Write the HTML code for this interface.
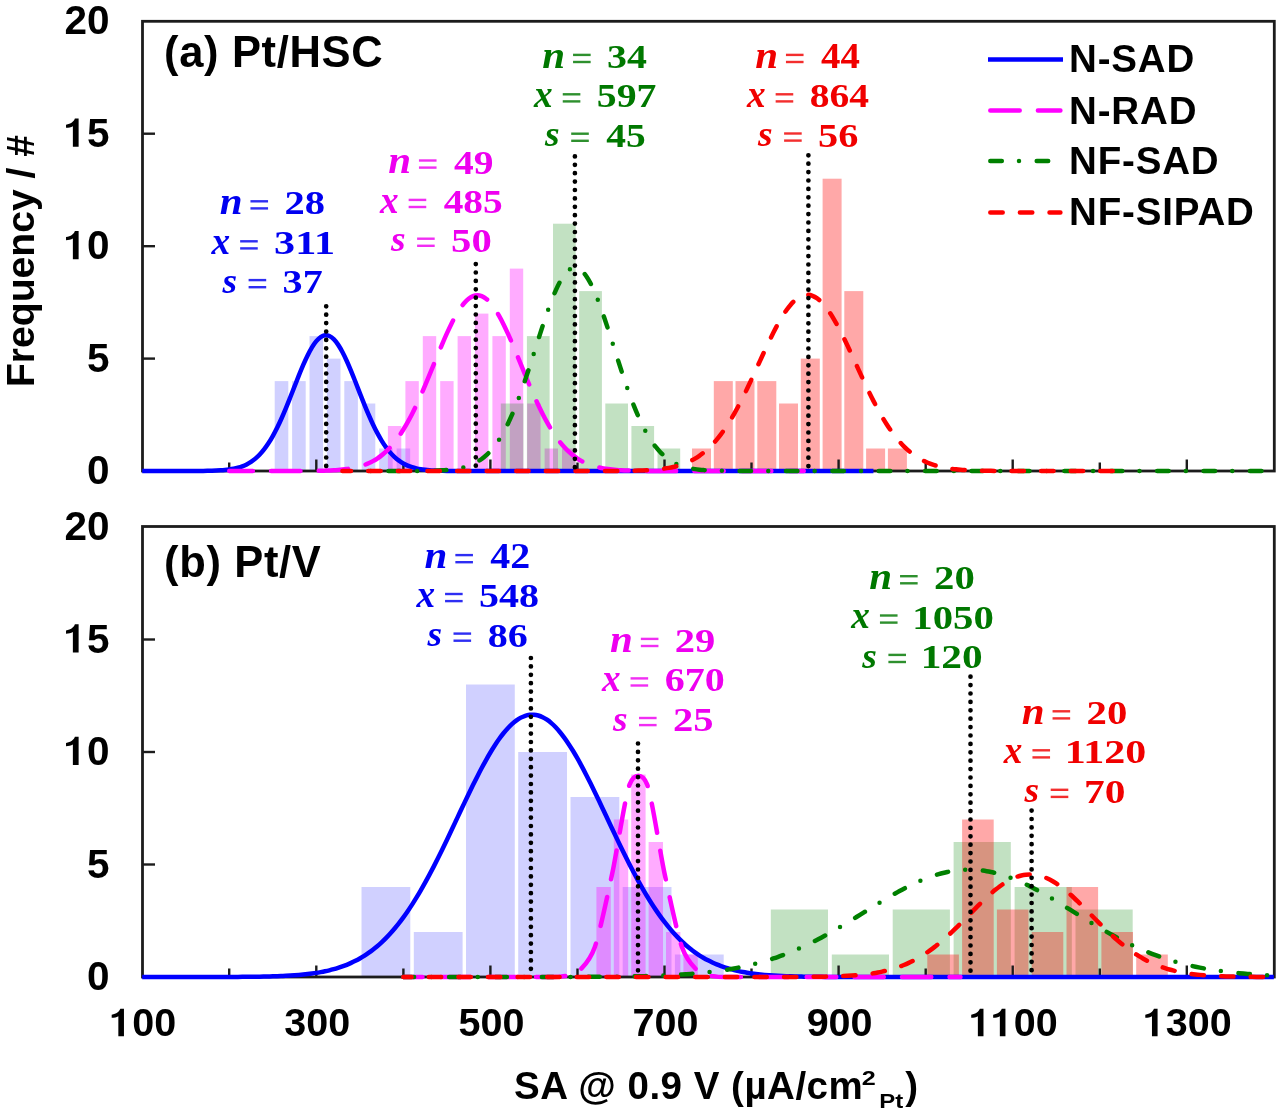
<!DOCTYPE html>
<html><head><meta charset="utf-8"><title>chart</title><style>
*{margin:0;padding:0}
html,body{width:1280px;height:1115px;overflow:hidden;background:#fff}
svg{display:block;filter:blur(0.6px)}
.tk{font-family:"Liberation Sans",sans-serif;font-weight:bold;font-size:39.5px;fill:#000}
.ttl{font-family:"Liberation Sans",sans-serif;font-weight:bold;font-size:43.5px;fill:#000;letter-spacing:0.66px}
.lg{font-family:"Liberation Sans",sans-serif;font-weight:bold;font-size:38.5px;fill:#000;letter-spacing:0.85px}
.ax{font-family:"Liberation Sans",sans-serif;font-weight:bold;font-size:38.5px;fill:#000}
.an{font-family:"Liberation Serif",serif;font-weight:bold;font-size:34px}
.it{font-style:italic}
</style></head><body>
<svg width="1280" height="1115" viewBox="0 0 1280 1115">
<rect width="1280" height="1115" fill="#fff"/>
<rect x="274.7" y="381.1" width="13.6" height="89.9" fill="rgba(0,0,255,0.185)"/>
<rect x="292.1" y="381.1" width="13.6" height="89.9" fill="rgba(0,0,255,0.185)"/>
<rect x="309.5" y="336.1" width="13.6" height="134.9" fill="rgba(0,0,255,0.185)"/>
<rect x="326.9" y="358.6" width="13.6" height="112.4" fill="rgba(0,0,255,0.185)"/>
<rect x="344.3" y="381.1" width="13.6" height="89.9" fill="rgba(0,0,255,0.185)"/>
<rect x="361.7" y="403.5" width="13.6" height="67.5" fill="rgba(0,0,255,0.185)"/>
<rect x="379.1" y="448.5" width="13.6" height="22.5" fill="rgba(0,0,255,0.185)"/>
<rect x="396.6" y="448.5" width="13.6" height="22.5" fill="rgba(0,0,255,0.185)"/>
<rect x="387.9" y="426.0" width="13.4" height="45.0" fill="rgba(255,0,255,0.33)"/>
<rect x="405.4" y="381.1" width="13.4" height="89.9" fill="rgba(255,0,255,0.33)"/>
<rect x="422.8" y="336.1" width="13.4" height="134.9" fill="rgba(255,0,255,0.33)"/>
<rect x="440.2" y="381.1" width="13.4" height="89.9" fill="rgba(255,0,255,0.33)"/>
<rect x="457.6" y="336.1" width="13.4" height="134.9" fill="rgba(255,0,255,0.33)"/>
<rect x="475.0" y="313.6" width="13.4" height="157.4" fill="rgba(255,0,255,0.33)"/>
<rect x="492.4" y="336.1" width="13.4" height="134.9" fill="rgba(255,0,255,0.33)"/>
<rect x="509.8" y="268.6" width="13.4" height="202.4" fill="rgba(255,0,255,0.33)"/>
<rect x="527.2" y="403.5" width="13.4" height="67.5" fill="rgba(255,0,255,0.33)"/>
<rect x="544.6" y="448.5" width="13.4" height="22.5" fill="rgba(255,0,255,0.33)"/>
<rect x="562.0" y="448.5" width="13.4" height="22.5" fill="rgba(255,0,255,0.33)"/>
<rect x="500.8" y="403.5" width="22.7" height="67.5" fill="rgba(0,128,0,0.24)"/>
<rect x="526.9" y="336.1" width="22.7" height="134.9" fill="rgba(0,128,0,0.24)"/>
<rect x="553.0" y="223.7" width="22.7" height="247.3" fill="rgba(0,128,0,0.24)"/>
<rect x="579.2" y="291.1" width="22.7" height="179.9" fill="rgba(0,128,0,0.24)"/>
<rect x="605.3" y="403.5" width="22.7" height="67.5" fill="rgba(0,128,0,0.24)"/>
<rect x="631.4" y="426.0" width="22.7" height="45.0" fill="rgba(0,128,0,0.24)"/>
<rect x="657.5" y="448.5" width="22.7" height="22.5" fill="rgba(0,128,0,0.24)"/>
<rect x="692.0" y="448.5" width="19.0" height="22.5" fill="rgba(255,0,0,0.34)"/>
<rect x="713.8" y="381.1" width="19.0" height="89.9" fill="rgba(255,0,0,0.34)"/>
<rect x="735.5" y="381.1" width="19.0" height="89.9" fill="rgba(255,0,0,0.34)"/>
<rect x="757.3" y="381.1" width="19.0" height="89.9" fill="rgba(255,0,0,0.34)"/>
<rect x="779.0" y="403.5" width="19.0" height="67.5" fill="rgba(255,0,0,0.34)"/>
<rect x="800.8" y="358.6" width="19.0" height="112.4" fill="rgba(255,0,0,0.34)"/>
<rect x="822.6" y="178.7" width="19.0" height="292.3" fill="rgba(255,0,0,0.34)"/>
<rect x="844.3" y="291.1" width="19.0" height="179.9" fill="rgba(255,0,0,0.34)"/>
<rect x="866.1" y="448.5" width="19.0" height="22.5" fill="rgba(255,0,0,0.34)"/>
<rect x="887.9" y="448.5" width="19.0" height="22.5" fill="rgba(255,0,0,0.34)"/>
<rect x="361.5" y="887.0" width="48.8" height="90.0" fill="rgba(0,0,255,0.185)"/>
<rect x="413.8" y="932.0" width="48.8" height="45.0" fill="rgba(0,0,255,0.185)"/>
<rect x="466.0" y="684.5" width="48.8" height="292.5" fill="rgba(0,0,255,0.185)"/>
<rect x="518.2" y="752.0" width="48.8" height="225.0" fill="rgba(0,0,255,0.185)"/>
<rect x="570.5" y="797.0" width="48.8" height="180.0" fill="rgba(0,0,255,0.185)"/>
<rect x="622.7" y="887.0" width="48.8" height="90.0" fill="rgba(0,0,255,0.185)"/>
<rect x="674.9" y="954.5" width="48.8" height="22.5" fill="rgba(0,0,255,0.185)"/>
<rect x="596.4" y="887.0" width="14.4" height="90.0" fill="rgba(255,0,255,0.33)"/>
<rect x="613.8" y="819.5" width="14.4" height="157.5" fill="rgba(255,0,255,0.33)"/>
<rect x="631.2" y="774.5" width="14.4" height="202.5" fill="rgba(255,0,255,0.33)"/>
<rect x="648.6" y="842.0" width="14.4" height="135.0" fill="rgba(255,0,255,0.33)"/>
<rect x="666.0" y="932.0" width="14.4" height="45.0" fill="rgba(255,0,255,0.33)"/>
<rect x="683.4" y="954.5" width="14.4" height="22.5" fill="rgba(255,0,255,0.33)"/>
<rect x="770.8" y="909.5" width="57.2" height="67.5" fill="rgba(0,128,0,0.24)"/>
<rect x="831.8" y="954.5" width="57.2" height="22.5" fill="rgba(0,128,0,0.24)"/>
<rect x="892.7" y="909.5" width="57.2" height="67.5" fill="rgba(0,128,0,0.24)"/>
<rect x="953.6" y="842.0" width="57.2" height="135.0" fill="rgba(0,128,0,0.24)"/>
<rect x="1014.6" y="887.0" width="57.2" height="90.0" fill="rgba(0,128,0,0.24)"/>
<rect x="1075.5" y="909.5" width="57.2" height="67.5" fill="rgba(0,128,0,0.24)"/>
<rect x="927.3" y="954.5" width="31.6" height="22.5" fill="rgba(255,0,0,0.34)"/>
<rect x="962.1" y="819.5" width="31.6" height="157.5" fill="rgba(255,0,0,0.34)"/>
<rect x="996.9" y="909.5" width="31.6" height="67.5" fill="rgba(255,0,0,0.34)"/>
<rect x="1031.7" y="932.0" width="31.6" height="45.0" fill="rgba(255,0,0,0.34)"/>
<rect x="1066.5" y="887.0" width="31.6" height="90.0" fill="rgba(255,0,0,0.34)"/>
<rect x="1101.4" y="932.0" width="31.6" height="45.0" fill="rgba(255,0,0,0.34)"/>
<rect x="1136.2" y="954.5" width="31.6" height="22.5" fill="rgba(255,0,0,0.34)"/>
<rect x="142.5" y="21.3" width="1131.8" height="449.7" fill="none" stroke="#1c1c1c" stroke-width="2.8"/>
<line x1="142.5" y1="358.6" x2="155.0" y2="358.6" stroke="#1c1c1c" stroke-width="2.4"/>
<line x1="142.5" y1="246.2" x2="155.0" y2="246.2" stroke="#1c1c1c" stroke-width="2.4"/>
<line x1="142.5" y1="133.7" x2="155.0" y2="133.7" stroke="#1c1c1c" stroke-width="2.4"/>
<line x1="229.2" y1="471.0" x2="229.2" y2="462.5" stroke="#1c1c1c" stroke-width="2.4"/>
<line x1="316.3" y1="471.0" x2="316.3" y2="459.5" stroke="#1c1c1c" stroke-width="2.4"/>
<line x1="403.4" y1="471.0" x2="403.4" y2="462.5" stroke="#1c1c1c" stroke-width="2.4"/>
<line x1="490.4" y1="471.0" x2="490.4" y2="459.5" stroke="#1c1c1c" stroke-width="2.4"/>
<line x1="577.5" y1="471.0" x2="577.5" y2="462.5" stroke="#1c1c1c" stroke-width="2.4"/>
<line x1="664.5" y1="471.0" x2="664.5" y2="459.5" stroke="#1c1c1c" stroke-width="2.4"/>
<line x1="751.5" y1="471.0" x2="751.5" y2="462.5" stroke="#1c1c1c" stroke-width="2.4"/>
<line x1="838.6" y1="471.0" x2="838.6" y2="459.5" stroke="#1c1c1c" stroke-width="2.4"/>
<line x1="925.7" y1="471.0" x2="925.7" y2="462.5" stroke="#1c1c1c" stroke-width="2.4"/>
<line x1="1012.7" y1="471.0" x2="1012.7" y2="459.5" stroke="#1c1c1c" stroke-width="2.4"/>
<line x1="1099.8" y1="471.0" x2="1099.8" y2="462.5" stroke="#1c1c1c" stroke-width="2.4"/>
<line x1="1186.8" y1="471.0" x2="1186.8" y2="459.5" stroke="#1c1c1c" stroke-width="2.4"/>
<rect x="142.5" y="526.5" width="1131.8" height="450.5" fill="none" stroke="#1c1c1c" stroke-width="2.8"/>
<line x1="142.5" y1="864.5" x2="155.0" y2="864.5" stroke="#1c1c1c" stroke-width="2.4"/>
<line x1="142.5" y1="752.0" x2="155.0" y2="752.0" stroke="#1c1c1c" stroke-width="2.4"/>
<line x1="142.5" y1="639.5" x2="155.0" y2="639.5" stroke="#1c1c1c" stroke-width="2.4"/>
<line x1="229.2" y1="977.0" x2="229.2" y2="968.5" stroke="#1c1c1c" stroke-width="2.4"/>
<line x1="316.3" y1="977.0" x2="316.3" y2="965.5" stroke="#1c1c1c" stroke-width="2.4"/>
<line x1="403.4" y1="977.0" x2="403.4" y2="968.5" stroke="#1c1c1c" stroke-width="2.4"/>
<line x1="490.4" y1="977.0" x2="490.4" y2="965.5" stroke="#1c1c1c" stroke-width="2.4"/>
<line x1="577.5" y1="977.0" x2="577.5" y2="968.5" stroke="#1c1c1c" stroke-width="2.4"/>
<line x1="664.5" y1="977.0" x2="664.5" y2="965.5" stroke="#1c1c1c" stroke-width="2.4"/>
<line x1="751.5" y1="977.0" x2="751.5" y2="968.5" stroke="#1c1c1c" stroke-width="2.4"/>
<line x1="838.6" y1="977.0" x2="838.6" y2="965.5" stroke="#1c1c1c" stroke-width="2.4"/>
<line x1="925.7" y1="977.0" x2="925.7" y2="968.5" stroke="#1c1c1c" stroke-width="2.4"/>
<line x1="1012.7" y1="977.0" x2="1012.7" y2="965.5" stroke="#1c1c1c" stroke-width="2.4"/>
<line x1="1099.8" y1="977.0" x2="1099.8" y2="968.5" stroke="#1c1c1c" stroke-width="2.4"/>
<line x1="1186.8" y1="977.0" x2="1186.8" y2="965.5" stroke="#1c1c1c" stroke-width="2.4"/>
<path d="M142.20,471.00 C142.93,471.00 145.10,471.00 146.55,471.00 C148.00,471.00 149.45,471.00 150.91,471.00 C152.36,471.00 153.81,471.00 155.26,471.00 C156.71,471.00 158.16,471.00 159.61,471.00 C161.06,471.00 162.51,471.00 163.96,471.00 C165.41,471.00 166.86,471.00 168.31,471.00 C169.77,471.00 171.22,471.00 172.67,471.00 C174.12,471.00 175.57,471.00 177.02,471.00 C178.47,471.00 179.92,471.00 181.37,470.99 C182.82,470.99 184.27,470.99 185.72,470.99 C187.18,470.99 188.63,470.98 190.08,470.98 C191.53,470.98 192.98,470.97 194.43,470.97 C195.88,470.96 197.33,470.95 198.78,470.94 C200.23,470.93 201.68,470.92 203.13,470.90 C204.59,470.89 206.04,470.87 207.49,470.84 C208.94,470.81 210.39,470.78 211.84,470.74 C213.29,470.70 214.74,470.65 216.19,470.59 C217.64,470.52 219.09,470.45 220.54,470.35 C222.00,470.26 223.45,470.15 224.90,470.00 C226.35,469.86 227.80,469.70 229.25,469.49 C230.70,469.28 232.15,469.05 233.60,468.76 C235.05,468.46 236.50,468.14 237.95,467.73 C239.41,467.32 240.86,466.87 242.31,466.31 C243.76,465.76 245.21,465.14 246.66,464.40 C248.11,463.67 249.56,462.85 251.01,461.89 C252.46,460.93 253.91,459.86 255.37,458.64 C256.82,457.41 258.27,456.06 259.72,454.53 C261.17,453.00 262.62,451.33 264.07,449.46 C265.52,447.60 266.97,445.56 268.42,443.34 C269.87,441.12 271.32,438.71 272.77,436.12 C274.23,433.53 275.68,430.75 277.13,427.81 C278.58,424.87 280.03,421.74 281.48,418.49 C282.93,415.24 284.38,411.81 285.83,408.32 C287.28,404.82 288.73,401.17 290.19,397.52 C291.64,393.88 293.09,390.11 294.54,386.43 C295.99,382.75 297.44,379.00 298.89,375.42 C300.34,371.84 301.79,368.27 303.24,364.94 C304.69,361.61 306.14,358.36 307.60,355.43 C309.05,352.50 310.50,349.74 311.95,347.35 C313.40,344.97 314.85,342.83 316.30,341.10 C317.75,339.38 319.20,337.98 320.65,337.01 C322.10,336.04 323.55,335.45 325.00,335.29 C326.46,335.12 327.91,335.38 329.36,336.03 C330.81,336.68 332.26,337.76 333.71,339.19 C335.16,340.62 336.61,342.48 338.06,344.61 C339.51,346.75 340.96,349.28 342.41,352.01 C343.87,354.74 345.32,357.80 346.77,360.99 C348.22,364.18 349.67,367.64 351.12,371.14 C352.57,374.64 354.02,378.33 355.47,381.99 C356.92,385.65 358.37,389.42 359.82,393.10 C361.28,396.78 362.73,400.49 364.18,404.06 C365.63,407.63 367.08,411.16 368.53,414.51 C369.98,417.87 371.43,421.13 372.88,424.20 C374.33,427.27 375.78,430.19 377.24,432.93 C378.69,435.66 380.14,438.22 381.59,440.58 C383.04,442.95 384.49,445.14 385.94,447.14 C387.39,449.15 388.84,450.97 390.29,452.63 C391.74,454.29 393.19,455.76 394.64,457.11 C396.10,458.45 397.55,459.62 399.00,460.68 C400.45,461.74 401.90,462.66 403.35,463.48 C404.80,464.30 406.25,464.99 407.70,465.61 C409.15,466.24 410.60,466.75 412.06,467.21 C413.51,467.68 414.96,468.05 416.41,468.39 C417.86,468.72 419.31,468.99 420.76,469.23 C422.21,469.47 423.66,469.65 425.11,469.82 C426.56,469.99 428.01,470.12 429.47,470.23 C430.92,470.34 432.37,470.43 433.82,470.51 C435.27,470.58 436.72,470.64 438.17,470.69 C439.62,470.74 441.07,470.78 442.52,470.81 C443.97,470.84 445.42,470.86 446.88,470.88 C448.33,470.90 449.78,470.92 451.23,470.93 C452.68,470.94 454.13,470.95 455.58,470.96 C457.03,470.97 458.48,470.97 459.93,470.98 C461.38,470.98 462.83,470.98 464.29,470.99 C465.74,470.99 467.19,470.99 468.64,470.99 C470.09,470.99 471.54,471.00 472.99,471.00 C474.44,471.00 475.89,471.00 477.34,471.00 C478.79,471.00 480.24,471.00 481.69,471.00 C483.15,471.00 484.60,471.00 486.05,471.00 C487.50,471.00 488.95,471.00 490.40,471.00 C491.85,471.00 493.30,471.00 494.75,471.00 C496.20,471.00 497.65,471.00 499.11,471.00 C500.56,471.00 502.01,471.00 503.46,471.00 C504.91,471.00 506.36,471.00 507.81,471.00 C509.26,471.00 510.71,471.00 512.16,471.00 C513.61,471.00 515.06,471.00 516.51,471.00 C517.97,471.00 519.42,471.00 520.87,471.00 C522.32,471.00 523.77,471.00 525.22,471.00 C526.67,471.00 528.12,471.00 529.57,471.00 C531.02,471.00 532.47,471.00 533.92,471.00 C535.38,471.00 536.83,471.00 538.28,471.00 C539.73,471.00 541.18,471.00 542.63,471.00 C544.08,471.00 545.53,471.00 546.98,471.00 C548.43,471.00 549.88,471.00 551.34,471.00 C552.79,471.00 554.24,471.00 555.69,471.00 C557.14,471.00 558.59,471.00 560.04,471.00 C561.49,471.00 562.94,471.00 564.39,471.00 C565.84,471.00 567.29,471.00 568.75,471.00 C570.20,471.00 571.65,471.00 573.10,471.00 C574.55,471.00 576.00,471.00 577.45,471.00 C578.90,471.00 580.35,471.00 581.80,471.00 C583.25,471.00 584.70,471.00 586.15,471.00 C587.61,471.00 589.06,471.00 590.51,471.00 C591.96,471.00 593.41,471.00 594.86,471.00 C596.31,471.00 597.76,471.00 599.21,471.00 C600.66,471.00 602.11,471.00 603.57,471.00 C605.02,471.00 606.47,471.00 607.92,471.00 C609.37,471.00 610.82,471.00 612.27,471.00 C613.72,471.00 615.17,471.00 616.62,471.00 C618.07,471.00 619.52,471.00 620.98,471.00 C622.43,471.00 623.88,471.00 625.33,471.00 C626.78,471.00 628.23,471.00 629.68,471.00 C631.13,471.00 632.58,471.00 634.03,471.00 C635.48,471.00 636.93,471.00 638.38,471.00 C639.84,471.00 641.29,471.00 642.74,471.00 C644.19,471.00 645.64,471.00 647.09,471.00 C648.54,471.00 649.99,471.00 651.44,471.00 C652.89,471.00 654.34,471.00 655.80,471.00 C657.25,471.00 658.70,471.00 660.15,471.00 C661.60,471.00 663.05,471.00 664.50,471.00 C665.95,471.00 667.40,471.00 668.85,471.00 C670.30,471.00 671.75,471.00 673.20,471.00 C674.66,471.00 676.11,471.00 677.56,471.00 C679.01,471.00 680.46,471.00 681.91,471.00 C683.36,471.00 684.81,471.00 686.26,471.00 C687.71,471.00 689.16,471.00 690.62,471.00 C692.07,471.00 693.52,471.00 694.97,471.00 C696.42,471.00 697.87,471.00 699.32,471.00 C700.77,471.00 702.22,471.00 703.67,471.00 C705.12,471.00 706.57,471.00 708.03,471.00 C709.48,471.00 710.93,471.00 712.38,471.00 C713.83,471.00 715.28,471.00 716.73,471.00 C718.18,471.00 719.63,471.00 721.08,471.00 C722.53,471.00 723.98,471.00 725.43,471.00 C726.89,471.00 728.34,471.00 729.79,471.00 C731.24,471.00 732.69,471.00 734.14,471.00 C735.59,471.00 737.04,471.00 738.49,471.00 C739.94,471.00 741.39,471.00 742.85,471.00 C744.30,471.00 745.75,471.00 747.20,471.00 C748.65,471.00 750.10,471.00 751.55,471.00 C753.00,471.00 754.45,471.00 755.90,471.00 C757.35,471.00 758.80,471.00 760.26,471.00 C761.71,471.00 763.16,471.00 764.61,471.00 C766.06,471.00 767.51,471.00 768.96,471.00 C770.41,471.00 771.86,471.00 773.31,471.00 C774.76,471.00 776.21,471.00 777.66,471.00 C779.12,471.00 780.57,471.00 782.02,471.00 C783.47,471.00 784.92,471.00 786.37,471.00 C787.82,471.00 789.27,471.00 790.72,471.00 C792.17,471.00 793.62,471.00 795.08,471.00 C796.53,471.00 797.98,471.00 799.43,471.00 C800.88,471.00 802.33,471.00 803.78,471.00 C805.23,471.00 806.68,471.00 808.13,471.00 C809.58,471.00 811.03,471.00 812.49,471.00 C813.94,471.00 815.39,471.00 816.84,471.00 C818.29,471.00 819.74,471.00 821.19,471.00 C822.64,471.00 824.09,471.00 825.54,471.00 C826.99,471.00 828.44,471.00 829.89,471.00 C831.35,471.00 832.80,471.00 834.25,471.00 C835.70,471.00 837.15,471.00 838.60,471.00 C840.05,471.00 841.50,471.00 842.95,471.00 C844.40,471.00 845.85,471.00 847.31,471.00 C848.76,471.00 850.21,471.00 851.66,471.00 C853.11,471.00 854.56,471.00 856.01,471.00 C857.46,471.00 858.91,471.00 860.36,471.00 C861.81,471.00 863.26,471.00 864.71,471.00 C866.17,471.00 867.62,471.00 869.07,471.00 C870.52,471.00 872.69,471.00 873.42,471.00" fill="none" stroke="#0000ff" stroke-width="4.5" stroke-linejoin="round"/>
<path d="M229.25,471.00 C229.98,471.00 232.15,471.00 233.60,471.00 C235.05,471.00 236.50,471.00 237.95,471.00 C239.41,471.00 240.86,471.00 242.31,471.00 C243.76,471.00 245.21,471.00 246.66,471.00 C248.11,471.00 249.56,471.00 251.01,471.00 C252.46,471.00 253.91,471.00 255.37,471.00 C256.82,471.00 258.27,471.00 259.72,471.00 C261.17,471.00 262.62,471.00 264.07,471.00 C265.52,471.00 266.97,471.00 268.42,471.00 C269.87,471.00 271.32,471.00 272.77,471.00 C274.23,471.00 275.68,471.00 277.13,471.00 C278.58,470.99 280.03,470.99 281.48,470.99 C282.93,470.99 284.38,470.99 285.83,470.99 C287.28,470.99 288.73,470.99 290.19,470.98 C291.64,470.98 293.09,470.98 294.54,470.97 C295.99,470.97 297.44,470.97 298.89,470.96 C300.34,470.96 301.79,470.95 303.24,470.94 C304.69,470.93 306.14,470.92 307.60,470.91 C309.05,470.90 310.50,470.89 311.95,470.87 C313.40,470.85 314.85,470.84 316.30,470.81 C317.75,470.79 319.20,470.76 320.65,470.73 C322.10,470.70 323.55,470.66 325.00,470.62 C326.46,470.57 327.91,470.52 329.36,470.46 C330.81,470.39 332.26,470.33 333.71,470.24 C335.16,470.16 336.61,470.06 338.06,469.95 C339.51,469.84 340.96,469.71 342.41,469.56 C343.87,469.41 345.32,469.24 346.77,469.05 C348.22,468.85 349.67,468.63 351.12,468.38 C352.57,468.12 354.02,467.84 355.47,467.51 C356.92,467.18 358.37,466.82 359.82,466.41 C361.28,465.99 362.73,465.54 364.18,465.01 C365.63,464.49 367.08,463.92 368.53,463.28 C369.98,462.63 371.43,461.92 372.88,461.13 C374.33,460.34 375.78,459.48 377.24,458.52 C378.69,457.56 380.14,456.52 381.59,455.37 C383.04,454.22 384.49,452.98 385.94,451.62 C387.39,450.26 388.84,448.80 390.29,447.21 C391.74,445.62 393.19,443.92 394.64,442.08 C396.10,440.25 397.55,438.30 399.00,436.21 C400.45,434.12 401.90,431.90 403.35,429.55 C404.80,427.21 406.25,424.72 407.70,422.12 C409.15,419.51 410.60,416.77 412.06,413.92 C413.51,411.07 414.96,408.09 416.41,405.02 C417.86,401.94 419.31,398.74 420.76,395.48 C422.21,392.21 423.66,388.84 425.11,385.42 C426.56,382.01 428.01,378.50 429.47,374.99 C430.92,371.48 432.37,367.91 433.82,364.37 C435.27,360.82 436.72,357.24 438.17,353.74 C439.62,350.23 441.07,346.73 442.52,343.34 C443.97,339.94 445.42,336.59 446.88,333.39 C448.33,330.20 449.78,327.08 451.23,324.15 C452.68,321.23 454.13,318.42 455.58,315.85 C457.03,313.27 458.48,310.86 459.93,308.71 C461.38,306.55 462.83,304.60 464.29,302.93 C465.74,301.25 467.19,299.81 468.64,298.67 C470.09,297.53 471.54,296.65 472.99,296.07 C474.44,295.49 475.89,295.19 477.34,295.19 C478.79,295.19 480.24,295.49 481.69,296.07 C483.15,296.65 484.60,297.53 486.05,298.67 C487.50,299.81 488.95,301.25 490.40,302.93 C491.85,304.60 493.30,306.55 494.75,308.71 C496.20,310.86 497.65,313.27 499.11,315.85 C500.56,318.42 502.01,321.23 503.46,324.15 C504.91,327.08 506.36,330.20 507.81,333.39 C509.26,336.59 510.71,339.94 512.16,343.34 C513.61,346.73 515.06,350.23 516.51,353.74 C517.97,357.24 519.42,360.82 520.87,364.37 C522.32,367.91 523.77,371.48 525.22,374.99 C526.67,378.50 528.12,382.01 529.57,385.42 C531.02,388.84 532.47,392.21 533.92,395.48 C535.38,398.74 536.83,401.94 538.28,405.02 C539.73,408.09 541.18,411.07 542.63,413.92 C544.08,416.77 545.53,419.51 546.98,422.12 C548.43,424.72 549.88,427.21 551.34,429.55 C552.79,431.90 554.24,434.12 555.69,436.21 C557.14,438.30 558.59,440.25 560.04,442.08 C561.49,443.92 562.94,445.62 564.39,447.21 C565.84,448.80 567.29,450.26 568.75,451.62 C570.20,452.98 571.65,454.22 573.10,455.37 C574.55,456.52 576.00,457.56 577.45,458.52 C578.90,459.48 580.35,460.34 581.80,461.13 C583.25,461.92 584.70,462.63 586.15,463.28 C587.61,463.92 589.06,464.49 590.51,465.01 C591.96,465.54 593.41,465.99 594.86,466.41 C596.31,466.82 597.76,467.18 599.21,467.51 C600.66,467.84 602.11,468.12 603.57,468.38 C605.02,468.63 606.47,468.85 607.92,469.05 C609.37,469.24 610.82,469.41 612.27,469.56 C613.72,469.71 615.17,469.84 616.62,469.95 C618.07,470.06 619.52,470.16 620.98,470.24 C622.43,470.33 623.88,470.39 625.33,470.46 C626.78,470.52 628.23,470.57 629.68,470.62 C631.13,470.66 632.58,470.70 634.03,470.73 C635.48,470.76 636.93,470.79 638.38,470.81 C639.84,470.84 641.29,470.85 642.74,470.87 C644.19,470.89 645.64,470.90 647.09,470.91 C648.54,470.92 649.99,470.93 651.44,470.94 C652.89,470.95 654.34,470.96 655.80,470.96 C657.25,470.97 658.70,470.97 660.15,470.97 C661.60,470.98 663.05,470.98 664.50,470.98 C665.95,470.99 667.40,470.99 668.85,470.99 C670.30,470.99 671.75,470.99 673.20,470.99 C674.66,470.99 676.11,470.99 677.56,471.00 C679.01,471.00 680.46,471.00 681.91,471.00 C683.36,471.00 684.81,471.00 686.26,471.00 C687.71,471.00 689.16,471.00 690.62,471.00 C692.07,471.00 693.52,471.00 694.97,471.00 C696.42,471.00 697.87,471.00 699.32,471.00 C700.77,471.00 702.22,471.00 703.67,471.00 C705.12,471.00 706.57,471.00 708.03,471.00 C709.48,471.00 710.93,471.00 712.38,471.00 C713.83,471.00 715.28,471.00 716.73,471.00 C718.18,471.00 719.63,471.00 721.08,471.00 C722.53,471.00 723.98,471.00 725.43,471.00 C726.89,471.00 728.34,471.00 729.79,471.00 C731.24,471.00 732.69,471.00 734.14,471.00 C735.59,471.00 737.04,471.00 738.49,471.00 C739.94,471.00 741.39,471.00 742.85,471.00 C744.30,471.00 745.75,471.00 747.20,471.00 C748.65,471.00 750.10,471.00 751.55,471.00 C753.00,471.00 754.45,471.00 755.90,471.00 C757.35,471.00 758.80,471.00 760.26,471.00 C761.71,471.00 763.16,471.00 764.61,471.00 C766.06,471.00 767.51,471.00 768.96,471.00 C770.41,471.00 771.86,471.00 773.31,471.00 C774.76,471.00 776.21,471.00 777.66,471.00 C779.12,471.00 780.57,471.00 782.02,471.00 C783.47,471.00 784.92,471.00 786.37,471.00 C787.82,471.00 789.27,471.00 790.72,471.00 C792.17,471.00 793.62,471.00 795.08,471.00 C796.53,471.00 797.98,471.00 799.43,471.00 C800.88,471.00 803.05,471.00 803.78,471.00" fill="none" stroke="#ff00ff" stroke-width="4.5" stroke-linejoin="round" stroke-dasharray="29.4 18.2" stroke-dashoffset="5.78" stroke-linecap="round"/>
<path d="M368.53,471.00 C369.26,471.00 371.43,471.00 372.88,471.00 C374.33,471.00 375.78,471.00 377.24,471.00 C378.69,471.00 380.14,471.00 381.59,471.00 C383.04,471.00 384.49,471.00 385.94,471.00 C387.39,471.00 388.84,471.00 390.29,471.00 C391.74,471.00 393.19,471.00 394.64,470.99 C396.10,470.99 397.55,470.99 399.00,470.99 C400.45,470.99 401.90,470.99 403.35,470.99 C404.80,470.98 406.25,470.98 407.70,470.98 C409.15,470.97 410.60,470.97 412.06,470.96 C413.51,470.96 414.96,470.95 416.41,470.94 C417.86,470.93 419.31,470.92 420.76,470.91 C422.21,470.90 423.66,470.88 425.11,470.86 C426.56,470.84 428.01,470.82 429.47,470.79 C430.92,470.76 432.37,470.73 433.82,470.69 C435.27,470.65 436.72,470.60 438.17,470.54 C439.62,470.48 441.07,470.41 442.52,470.32 C443.97,470.24 445.42,470.14 446.88,470.02 C448.33,469.90 449.78,469.77 451.23,469.60 C452.68,469.43 454.13,469.25 455.58,469.03 C457.03,468.80 458.48,468.55 459.93,468.25 C461.38,467.94 462.83,467.61 464.29,467.21 C465.74,466.81 467.19,466.37 468.64,465.85 C470.09,465.32 471.54,464.75 472.99,464.08 C474.44,463.41 475.89,462.67 477.34,461.82 C478.79,460.96 480.24,460.03 481.69,458.96 C483.15,457.90 484.60,456.73 486.05,455.42 C487.50,454.11 488.95,452.68 490.40,451.08 C491.85,449.49 493.30,447.76 494.75,445.85 C496.20,443.94 497.65,441.88 499.11,439.63 C500.56,437.38 502.01,434.96 503.46,432.35 C504.91,429.74 506.36,426.95 507.81,423.97 C509.26,420.98 510.71,417.81 512.16,414.47 C513.61,411.12 515.06,407.58 516.51,403.88 C517.97,400.19 519.42,396.30 520.87,392.30 C522.32,388.29 523.77,384.10 525.22,379.84 C526.67,375.58 528.12,371.16 529.57,366.71 C531.02,362.26 532.47,357.69 533.92,353.15 C535.38,348.61 536.83,343.99 538.28,339.46 C539.73,334.94 541.18,330.38 542.63,325.99 C544.08,321.59 545.53,317.23 546.98,313.09 C548.43,308.96 549.88,304.92 551.34,301.16 C552.79,297.41 554.24,293.82 555.69,290.57 C557.14,287.32 558.59,284.31 560.04,281.67 C561.49,279.04 562.94,276.70 564.39,274.77 C565.84,272.84 567.29,271.26 568.75,270.11 C570.20,268.96 571.65,268.20 573.10,267.87 C574.55,267.54 576.00,267.62 577.45,268.12 C578.90,268.62 580.35,269.55 581.80,270.86 C583.25,272.17 584.70,273.90 586.15,275.98 C587.61,278.05 589.06,280.54 590.51,283.30 C591.96,286.07 593.41,289.21 594.86,292.57 C596.31,295.92 597.76,299.61 599.21,303.45 C600.66,307.29 602.11,311.41 603.57,315.61 C605.02,319.81 606.47,324.22 607.92,328.65 C609.37,333.08 610.82,337.66 612.27,342.20 C613.72,346.73 615.17,351.35 616.62,355.88 C618.07,360.41 619.52,364.96 620.98,369.38 C622.43,373.80 623.88,378.17 625.33,382.39 C626.78,386.61 628.23,390.74 629.68,394.69 C631.13,398.64 632.58,402.46 634.03,406.08 C635.48,409.71 636.93,413.18 638.38,416.45 C639.84,419.73 641.29,422.83 642.74,425.73 C644.19,428.64 645.64,431.35 647.09,433.89 C648.54,436.43 649.99,438.77 651.44,440.95 C652.89,443.13 654.34,445.13 655.80,446.97 C657.25,448.81 658.70,450.48 660.15,452.02 C661.60,453.55 663.05,454.93 664.50,456.19 C665.95,457.45 667.40,458.57 668.85,459.59 C670.30,460.61 671.75,461.50 673.20,462.31 C674.66,463.13 676.11,463.83 677.56,464.47 C679.01,465.11 680.46,465.65 681.91,466.15 C683.36,466.64 684.81,467.06 686.26,467.44 C687.71,467.82 689.16,468.14 690.62,468.42 C692.07,468.71 693.52,468.94 694.97,469.15 C696.42,469.37 697.87,469.54 699.32,469.70 C700.77,469.85 702.22,469.98 703.67,470.09 C705.12,470.20 706.57,470.29 708.03,470.37 C709.48,470.45 710.93,470.52 712.38,470.57 C713.83,470.63 715.28,470.67 716.73,470.71 C718.18,470.75 719.63,470.78 721.08,470.81 C722.53,470.84 723.98,470.86 725.43,470.87 C726.89,470.89 728.34,470.91 729.79,470.92 C731.24,470.93 732.69,470.94 734.14,470.95 C735.59,470.96 737.04,470.96 738.49,470.97 C739.94,470.97 741.39,470.98 742.85,470.98 C744.30,470.98 745.75,470.99 747.20,470.99 C748.65,470.99 750.10,470.99 751.55,470.99 C753.00,470.99 754.45,470.99 755.90,471.00 C757.35,471.00 758.80,471.00 760.26,471.00 C761.71,471.00 763.16,471.00 764.61,471.00 C766.06,471.00 767.51,471.00 768.96,471.00 C770.41,471.00 771.86,471.00 773.31,471.00 C774.76,471.00 776.21,471.00 777.66,471.00 C779.12,471.00 780.57,471.00 782.02,471.00 C783.47,471.00 784.92,471.00 786.37,471.00 C787.82,471.00 789.27,471.00 790.72,471.00 C792.17,471.00 793.62,471.00 795.08,471.00 C796.53,471.00 797.98,471.00 799.43,471.00 C800.88,471.00 802.33,471.00 803.78,471.00 C805.23,471.00 806.68,471.00 808.13,471.00 C809.58,471.00 811.03,471.00 812.49,471.00 C813.94,471.00 815.39,471.00 816.84,471.00 C818.29,471.00 819.74,471.00 821.19,471.00 C822.64,471.00 824.09,471.00 825.54,471.00 C826.99,471.00 828.44,471.00 829.89,471.00 C831.35,471.00 832.80,471.00 834.25,471.00 C835.70,471.00 837.15,471.00 838.60,471.00 C840.05,471.00 841.50,471.00 842.95,471.00 C844.40,471.00 845.85,471.00 847.31,471.00 C848.76,471.00 850.21,471.00 851.66,471.00 C853.11,471.00 854.56,471.00 856.01,471.00 C857.46,471.00 858.91,471.00 860.36,471.00 C861.81,471.00 863.26,471.00 864.71,471.00 C866.17,471.00 867.62,471.00 869.07,471.00 C870.52,471.00 871.97,471.00 873.42,471.00 C874.87,471.00 876.32,471.00 877.77,471.00 C879.22,471.00 880.67,471.00 882.12,471.00 C883.58,471.00 885.03,471.00 886.48,471.00 C887.93,471.00 889.38,471.00 890.83,471.00 C892.28,471.00 893.73,471.00 895.18,471.00 C896.63,471.00 898.08,471.00 899.54,471.00 C900.99,471.00 902.44,471.00 903.89,471.00 C905.34,471.00 906.79,471.00 908.24,471.00 C909.69,471.00 911.14,471.00 912.59,471.00 C914.04,471.00 915.49,471.00 916.94,471.00 C918.40,471.00 919.85,471.00 921.30,471.00 C922.75,471.00 924.20,471.00 925.65,471.00 C927.10,471.00 928.55,471.00 930.00,471.00 C931.45,471.00 932.90,471.00 934.36,471.00 C935.81,471.00 937.26,471.00 938.71,471.00 C940.16,471.00 941.61,471.00 943.06,471.00 C944.51,471.00 945.96,471.00 947.41,471.00 C948.86,471.00 950.31,471.00 951.77,471.00 C953.22,471.00 954.67,471.00 956.12,471.00 C957.57,471.00 959.02,471.00 960.47,471.00 C961.92,471.00 963.37,471.00 964.82,471.00 C966.27,471.00 967.72,471.00 969.17,471.00 C970.63,471.00 972.08,471.00 973.53,471.00 C974.98,471.00 976.43,471.00 977.88,471.00 C979.33,471.00 980.78,471.00 982.23,471.00 C983.68,471.00 985.13,471.00 986.59,471.00 C988.04,471.00 989.49,471.00 990.94,471.00 C992.39,471.00 993.84,471.00 995.29,471.00 C996.74,471.00 998.19,471.00 999.64,471.00 C1001.09,471.00 1002.54,471.00 1004.00,471.00 C1005.45,471.00 1006.90,471.00 1008.35,471.00 C1009.80,471.00 1011.25,471.00 1012.70,471.00 C1014.15,471.00 1015.60,471.00 1017.05,471.00 C1018.50,471.00 1019.95,471.00 1021.40,471.00 C1022.86,471.00 1024.31,471.00 1025.76,471.00 C1027.21,471.00 1028.66,471.00 1030.11,471.00 C1031.56,471.00 1033.01,471.00 1034.46,471.00 C1035.91,471.00 1037.36,471.00 1038.82,471.00 C1040.27,471.00 1041.72,471.00 1043.17,471.00 C1044.62,471.00 1046.07,471.00 1047.52,471.00 C1048.97,471.00 1050.42,471.00 1051.87,471.00 C1053.32,471.00 1054.77,471.00 1056.23,471.00 C1057.68,471.00 1059.13,471.00 1060.58,471.00 C1062.03,471.00 1063.48,471.00 1064.93,471.00 C1066.38,471.00 1067.83,471.00 1069.28,471.00 C1070.73,471.00 1072.18,471.00 1073.63,471.00 C1075.09,471.00 1076.54,471.00 1077.99,471.00 C1079.44,471.00 1080.89,471.00 1082.34,471.00 C1083.79,471.00 1085.24,471.00 1086.69,471.00 C1088.14,471.00 1089.59,471.00 1091.05,471.00 C1092.50,471.00 1093.95,471.00 1095.40,471.00 C1096.85,471.00 1098.30,471.00 1099.75,471.00 C1101.20,471.00 1102.65,471.00 1104.10,471.00 C1105.55,471.00 1107.00,471.00 1108.46,471.00 C1109.91,471.00 1111.36,471.00 1112.81,471.00 C1114.26,471.00 1115.71,471.00 1117.16,471.00 C1118.61,471.00 1120.06,471.00 1121.51,471.00 C1122.96,471.00 1124.41,471.00 1125.87,471.00 C1127.32,471.00 1128.77,471.00 1130.22,471.00 C1131.67,471.00 1133.12,471.00 1134.57,471.00 C1136.02,471.00 1137.47,471.00 1138.92,471.00 C1140.37,471.00 1141.82,471.00 1143.28,471.00 C1144.73,471.00 1146.18,471.00 1147.63,471.00 C1149.08,471.00 1150.53,471.00 1151.98,471.00 C1153.43,471.00 1154.88,471.00 1156.33,471.00 C1157.78,471.00 1159.23,471.00 1160.68,471.00 C1162.14,471.00 1163.59,471.00 1165.04,471.00 C1166.49,471.00 1167.94,471.00 1169.39,471.00 C1170.84,471.00 1172.29,471.00 1173.74,471.00 C1175.19,471.00 1176.64,471.00 1178.10,471.00 C1179.55,471.00 1181.00,471.00 1182.45,471.00 C1183.90,471.00 1185.35,471.00 1186.80,471.00 C1188.25,471.00 1189.70,471.00 1191.15,471.00 C1192.60,471.00 1194.05,471.00 1195.51,471.00 C1196.96,471.00 1198.41,471.00 1199.86,471.00 C1201.31,471.00 1202.76,471.00 1204.21,471.00 C1205.66,471.00 1207.11,471.00 1208.56,471.00 C1210.01,471.00 1211.46,471.00 1212.92,471.00 C1214.37,471.00 1215.82,471.00 1217.27,471.00 C1218.72,471.00 1220.17,471.00 1221.62,471.00 C1223.07,471.00 1224.52,471.00 1225.97,471.00 C1227.42,471.00 1228.87,471.00 1230.33,471.00 C1231.78,471.00 1233.23,471.00 1234.68,471.00 C1236.13,471.00 1237.58,471.00 1239.03,471.00 C1240.48,471.00 1241.93,471.00 1243.38,471.00 C1244.83,471.00 1246.28,471.00 1247.74,471.00 C1249.19,471.00 1250.64,471.00 1252.09,471.00 C1253.54,471.00 1254.99,471.00 1256.44,471.00 C1257.89,471.00 1259.34,471.00 1260.79,471.00 C1262.24,471.00 1263.69,471.00 1265.15,471.00 C1266.60,471.00 1268.05,471.00 1269.50,471.00 C1270.95,471.00 1273.12,471.00 1273.85,471.00" fill="none" stroke="#008000" stroke-width="4.5" stroke-linejoin="round" stroke-dasharray="11.5 17.2 0 17.7" stroke-dashoffset="26.45" stroke-linecap="round"/>
<path d="M342.41,471.00 C343.14,471.00 345.32,471.00 346.77,471.00 C348.22,471.00 349.67,471.00 351.12,471.00 C352.57,471.00 354.02,471.00 355.47,471.00 C356.92,471.00 358.37,471.00 359.82,471.00 C361.28,471.00 362.73,471.00 364.18,471.00 C365.63,471.00 367.08,471.00 368.53,471.00 C369.98,471.00 371.43,471.00 372.88,471.00 C374.33,471.00 375.78,471.00 377.24,471.00 C378.69,471.00 380.14,471.00 381.59,471.00 C383.04,471.00 384.49,471.00 385.94,471.00 C387.39,471.00 388.84,471.00 390.29,471.00 C391.74,471.00 393.19,471.00 394.64,471.00 C396.10,471.00 397.55,471.00 399.00,471.00 C400.45,471.00 401.90,471.00 403.35,471.00 C404.80,471.00 406.25,471.00 407.70,471.00 C409.15,471.00 410.60,471.00 412.06,471.00 C413.51,471.00 414.96,471.00 416.41,471.00 C417.86,471.00 419.31,471.00 420.76,471.00 C422.21,471.00 423.66,471.00 425.11,471.00 C426.56,471.00 428.01,471.00 429.47,471.00 C430.92,471.00 432.37,471.00 433.82,471.00 C435.27,471.00 436.72,471.00 438.17,471.00 C439.62,471.00 441.07,471.00 442.52,471.00 C443.97,471.00 445.42,471.00 446.88,471.00 C448.33,471.00 449.78,471.00 451.23,471.00 C452.68,471.00 454.13,471.00 455.58,471.00 C457.03,471.00 458.48,471.00 459.93,471.00 C461.38,471.00 462.83,471.00 464.29,471.00 C465.74,471.00 467.19,471.00 468.64,471.00 C470.09,471.00 471.54,471.00 472.99,471.00 C474.44,471.00 475.89,471.00 477.34,471.00 C478.79,471.00 480.24,471.00 481.69,471.00 C483.15,471.00 484.60,471.00 486.05,471.00 C487.50,471.00 488.95,471.00 490.40,471.00 C491.85,471.00 493.30,471.00 494.75,471.00 C496.20,471.00 497.65,471.00 499.11,471.00 C500.56,471.00 502.01,471.00 503.46,471.00 C504.91,471.00 506.36,471.00 507.81,471.00 C509.26,471.00 510.71,471.00 512.16,471.00 C513.61,471.00 515.06,471.00 516.51,471.00 C517.97,471.00 519.42,471.00 520.87,471.00 C522.32,471.00 523.77,471.00 525.22,471.00 C526.67,471.00 528.12,471.00 529.57,471.00 C531.02,471.00 532.47,471.00 533.92,471.00 C535.38,471.00 536.83,471.00 538.28,471.00 C539.73,471.00 541.18,471.00 542.63,471.00 C544.08,471.00 545.53,471.00 546.98,471.00 C548.43,471.00 549.88,471.00 551.34,471.00 C552.79,471.00 554.24,471.00 555.69,471.00 C557.14,471.00 558.59,471.00 560.04,471.00 C561.49,471.00 562.94,471.00 564.39,471.00 C565.84,471.00 567.29,471.00 568.75,471.00 C570.20,471.00 571.65,471.00 573.10,471.00 C574.55,471.00 576.00,471.00 577.45,471.00 C578.90,471.00 580.35,471.00 581.80,471.00 C583.25,471.00 584.70,470.99 586.15,470.99 C587.61,470.99 589.06,470.99 590.51,470.99 C591.96,470.99 593.41,470.99 594.86,470.99 C596.31,470.98 597.76,470.98 599.21,470.98 C600.66,470.98 602.11,470.98 603.57,470.97 C605.02,470.97 606.47,470.96 607.92,470.96 C609.37,470.95 610.82,470.95 612.27,470.94 C613.72,470.93 615.17,470.93 616.62,470.92 C618.07,470.91 619.52,470.89 620.98,470.88 C622.43,470.87 623.88,470.85 625.33,470.83 C626.78,470.81 628.23,470.79 629.68,470.77 C631.13,470.74 632.58,470.72 634.03,470.68 C635.48,470.65 636.93,470.61 638.38,470.56 C639.84,470.52 641.29,470.47 642.74,470.41 C644.19,470.35 645.64,470.28 647.09,470.20 C648.54,470.12 649.99,470.04 651.44,469.93 C652.89,469.83 654.34,469.72 655.80,469.59 C657.25,469.46 658.70,469.31 660.15,469.15 C661.60,468.98 663.05,468.79 664.50,468.58 C665.95,468.37 667.40,468.14 668.85,467.87 C670.30,467.60 671.75,467.31 673.20,466.98 C674.66,466.65 676.11,466.29 677.56,465.89 C679.01,465.48 680.46,465.04 681.91,464.54 C683.36,464.04 684.81,463.51 686.26,462.91 C687.71,462.31 689.16,461.66 690.62,460.94 C692.07,460.22 693.52,459.45 694.97,458.59 C696.42,457.74 697.87,456.82 699.32,455.82 C700.77,454.82 702.22,453.74 703.67,452.57 C705.12,451.41 706.57,450.16 708.03,448.81 C709.48,447.47 710.93,446.03 712.38,444.50 C713.83,442.96 715.28,441.33 716.73,439.59 C718.18,437.85 719.63,436.02 721.08,434.07 C722.53,432.13 723.98,430.08 725.43,427.93 C726.89,425.78 728.34,423.52 729.79,421.17 C731.24,418.81 732.69,416.35 734.14,413.80 C735.59,411.25 737.04,408.59 738.49,405.86 C739.94,403.13 741.39,400.30 742.85,397.41 C744.30,394.52 745.75,391.54 747.20,388.53 C748.65,385.51 750.10,382.41 751.55,379.30 C753.00,376.19 754.45,373.02 755.90,369.85 C757.35,366.69 758.80,363.49 760.26,360.32 C761.71,357.15 763.16,353.97 764.61,350.85 C766.06,347.73 767.51,344.62 768.96,341.60 C770.41,338.58 771.86,335.61 773.31,332.75 C774.76,329.89 776.21,327.10 777.66,324.46 C779.12,321.83 780.57,319.28 782.02,316.92 C783.47,314.55 784.92,312.31 786.37,310.27 C787.82,308.23 789.27,306.34 790.72,304.66 C792.17,302.99 793.62,301.49 795.08,300.23 C796.53,298.96 797.98,297.90 799.43,297.07 C800.88,296.24 802.33,295.63 803.78,295.26 C805.23,294.88 806.68,294.74 808.13,294.84 C809.58,294.93 811.03,295.26 812.49,295.82 C813.94,296.37 815.39,297.17 816.84,298.17 C818.29,299.18 819.74,300.42 821.19,301.85 C822.64,303.29 824.09,304.94 825.54,306.77 C826.99,308.60 828.44,310.63 829.89,312.81 C831.35,314.99 832.80,317.36 834.25,319.84 C835.70,322.32 837.15,324.97 838.60,327.70 C840.05,330.43 841.50,333.30 842.95,336.23 C844.40,339.16 845.85,342.20 847.31,345.26 C848.76,348.33 850.21,351.47 851.66,354.62 C853.11,357.76 854.56,360.96 856.01,364.13 C857.46,367.31 858.91,370.50 860.36,373.65 C861.81,376.80 863.26,379.94 864.71,383.02 C866.17,386.10 867.62,389.16 869.07,392.13 C870.52,395.10 871.97,398.02 873.42,400.85 C874.87,403.68 876.32,406.44 877.77,409.10 C879.22,411.76 880.67,414.34 882.12,416.82 C883.58,419.29 885.03,421.67 886.48,423.95 C887.93,426.22 889.38,428.40 890.83,430.46 C892.28,432.53 893.73,434.50 895.18,436.36 C896.63,438.22 898.08,439.97 899.54,441.63 C900.99,443.28 902.44,444.83 903.89,446.29 C905.34,447.75 906.79,449.11 908.24,450.38 C909.69,451.66 911.14,452.83 912.59,453.93 C914.04,455.03 915.49,456.04 916.94,456.98 C918.40,457.92 919.85,458.78 921.30,459.58 C922.75,460.38 924.20,461.10 925.65,461.77 C927.10,462.44 928.55,463.04 930.00,463.60 C931.45,464.15 932.90,464.65 934.36,465.11 C935.81,465.57 937.26,465.98 938.71,466.35 C940.16,466.73 941.61,467.06 943.06,467.36 C944.51,467.67 945.96,467.93 947.41,468.17 C948.86,468.42 950.31,468.63 951.77,468.82 C953.22,469.02 954.67,469.18 956.12,469.34 C957.57,469.49 959.02,469.62 960.47,469.74 C961.92,469.86 963.37,469.96 964.82,470.05 C966.27,470.14 967.72,470.22 969.17,470.29 C970.63,470.36 972.08,470.42 973.53,470.48 C974.98,470.53 976.43,470.57 977.88,470.61 C979.33,470.66 980.78,470.69 982.23,470.72 C983.68,470.75 985.13,470.77 986.59,470.80 C988.04,470.82 989.49,470.84 990.94,470.85 C992.39,470.87 993.84,470.88 995.29,470.90 C996.74,470.91 998.19,470.92 999.64,470.93 C1001.09,470.94 1002.54,470.94 1004.00,470.95 C1005.45,470.96 1006.90,470.96 1008.35,470.96 C1009.80,470.97 1011.25,470.97 1012.70,470.98 C1014.15,470.98 1015.60,470.98 1017.05,470.98 C1018.50,470.99 1019.95,470.99 1021.40,470.99 C1022.86,470.99 1024.31,470.99 1025.76,470.99 C1027.21,470.99 1028.66,470.99 1030.11,470.99 C1031.56,471.00 1033.01,471.00 1034.46,471.00 C1035.91,471.00 1037.36,471.00 1038.82,471.00 C1040.27,471.00 1041.72,471.00 1043.17,471.00 C1044.62,471.00 1046.07,471.00 1047.52,471.00 C1048.97,471.00 1050.42,471.00 1051.87,471.00 C1053.32,471.00 1054.77,471.00 1056.23,471.00 C1057.68,471.00 1059.13,471.00 1060.58,471.00 C1062.03,471.00 1063.48,471.00 1064.93,471.00 C1066.38,471.00 1067.83,471.00 1069.28,471.00 C1070.73,471.00 1072.18,471.00 1073.63,471.00 C1075.09,471.00 1076.54,471.00 1077.99,471.00 C1079.44,471.00 1080.89,471.00 1082.34,471.00 C1083.79,471.00 1085.24,471.00 1086.69,471.00 C1088.14,471.00 1089.59,471.00 1091.05,471.00 C1092.50,471.00 1093.95,471.00 1095.40,471.00 C1096.85,471.00 1098.30,471.00 1099.75,471.00 C1101.20,471.00 1102.65,471.00 1104.10,471.00 C1105.55,471.00 1107.00,471.00 1108.46,471.00 C1109.91,471.00 1111.36,471.00 1112.81,471.00 C1114.26,471.00 1116.43,471.00 1117.16,471.00" fill="none" stroke="#ff0000" stroke-width="4.5" stroke-linejoin="round" stroke-dasharray="12.4 17.2" stroke-dashoffset="3.77" stroke-linecap="round"/>
<path d="M142.20,977.00 C142.93,977.00 145.10,977.00 146.55,977.00 C148.00,977.00 149.45,977.00 150.91,977.00 C152.36,977.00 153.81,977.00 155.26,977.00 C156.71,977.00 158.16,977.00 159.61,977.00 C161.06,977.00 162.51,977.00 163.96,977.00 C165.41,977.00 166.86,977.00 168.31,977.00 C169.77,977.00 171.22,977.00 172.67,977.00 C174.12,977.00 175.57,977.00 177.02,977.00 C178.47,977.00 179.92,977.00 181.37,977.00 C182.82,977.00 184.27,976.99 185.72,976.99 C187.18,976.99 188.63,976.99 190.08,976.99 C191.53,976.99 192.98,976.99 194.43,976.99 C195.88,976.99 197.33,976.99 198.78,976.99 C200.23,976.99 201.68,976.98 203.13,976.98 C204.59,976.98 206.04,976.98 207.49,976.98 C208.94,976.98 210.39,976.97 211.84,976.97 C213.29,976.97 214.74,976.97 216.19,976.96 C217.64,976.96 219.09,976.96 220.54,976.95 C222.00,976.95 223.45,976.95 224.90,976.94 C226.35,976.94 227.80,976.93 229.25,976.93 C230.70,976.92 232.15,976.91 233.60,976.91 C235.05,976.90 236.50,976.89 237.95,976.88 C239.41,976.88 240.86,976.87 242.31,976.85 C243.76,976.84 245.21,976.83 246.66,976.82 C248.11,976.80 249.56,976.79 251.01,976.77 C252.46,976.76 253.91,976.74 255.37,976.72 C256.82,976.70 258.27,976.68 259.72,976.65 C261.17,976.63 262.62,976.60 264.07,976.57 C265.52,976.54 266.97,976.51 268.42,976.47 C269.87,976.43 271.32,976.40 272.77,976.35 C274.23,976.31 275.68,976.26 277.13,976.21 C278.58,976.16 280.03,976.10 281.48,976.04 C282.93,975.97 284.38,975.91 285.83,975.83 C287.28,975.76 288.73,975.68 290.19,975.59 C291.64,975.50 293.09,975.40 294.54,975.30 C295.99,975.19 297.44,975.08 298.89,974.96 C300.34,974.83 301.79,974.70 303.24,974.56 C304.69,974.41 306.14,974.26 307.60,974.09 C309.05,973.92 310.50,973.73 311.95,973.54 C313.40,973.34 314.85,973.13 316.30,972.90 C317.75,972.67 319.20,972.42 320.65,972.16 C322.10,971.89 323.55,971.61 325.00,971.30 C326.46,970.99 327.91,970.67 329.36,970.32 C330.81,969.97 332.26,969.59 333.71,969.19 C335.16,968.79 336.61,968.36 338.06,967.90 C339.51,967.45 340.96,966.96 342.41,966.44 C343.87,965.92 345.32,965.37 346.77,964.79 C348.22,964.20 349.67,963.58 351.12,962.92 C352.57,962.26 354.02,961.56 355.47,960.82 C356.92,960.08 358.37,959.30 359.82,958.47 C361.28,957.64 362.73,956.77 364.18,955.85 C365.63,954.93 367.08,953.97 368.53,952.95 C369.98,951.93 371.43,950.86 372.88,949.73 C374.33,948.61 375.78,947.43 377.24,946.19 C378.69,944.96 380.14,943.67 381.59,942.31 C383.04,940.96 384.49,939.55 385.94,938.08 C387.39,936.60 388.84,935.07 390.29,933.47 C391.74,931.87 393.19,930.21 394.64,928.48 C396.10,926.75 397.55,924.96 399.00,923.10 C400.45,921.24 401.90,919.32 403.35,917.33 C404.80,915.34 406.25,913.28 407.70,911.16 C409.15,909.04 410.60,906.85 412.06,904.60 C413.51,902.35 414.96,900.03 416.41,897.65 C417.86,895.28 419.31,892.83 420.76,890.33 C422.21,887.84 423.66,885.27 425.11,882.66 C426.56,880.05 428.01,877.37 429.47,874.65 C430.92,871.93 432.37,869.16 433.82,866.34 C435.27,863.53 436.72,860.66 438.17,857.76 C439.62,854.86 441.07,851.91 442.52,848.94 C443.97,845.97 445.42,842.97 446.88,839.94 C448.33,836.92 449.78,833.86 451.23,830.80 C452.68,827.74 454.13,824.66 455.58,821.58 C457.03,818.50 458.48,815.40 459.93,812.33 C461.38,809.25 462.83,806.17 464.29,803.12 C465.74,800.07 467.19,797.02 468.64,794.01 C470.09,791.01 471.54,788.02 472.99,785.08 C474.44,782.14 475.89,779.23 477.34,776.39 C478.79,773.55 480.24,770.74 481.69,768.02 C483.15,765.29 484.60,762.61 486.05,760.03 C487.50,757.44 488.95,754.91 490.40,752.49 C491.85,750.07 493.30,747.72 494.75,745.48 C496.20,743.24 497.65,741.08 499.11,739.05 C500.56,737.02 502.01,735.08 503.46,733.27 C504.91,731.46 506.36,729.76 507.81,728.19 C509.26,726.63 510.71,725.18 512.16,723.87 C513.61,722.56 515.06,721.37 516.51,720.33 C517.97,719.29 519.42,718.39 520.87,717.63 C522.32,716.87 523.77,716.25 525.22,715.78 C526.67,715.31 528.12,714.99 529.57,714.81 C531.02,714.63 532.47,714.60 533.92,714.72 C535.38,714.84 536.83,715.11 538.28,715.52 C539.73,715.93 541.18,716.49 542.63,717.19 C544.08,717.89 545.53,718.74 546.98,719.73 C548.43,720.71 549.88,721.84 551.34,723.10 C552.79,724.35 554.24,725.75 555.69,727.27 C557.14,728.78 558.59,730.43 560.04,732.20 C561.49,733.96 562.94,735.85 564.39,737.84 C565.84,739.83 567.29,741.94 568.75,744.14 C570.20,746.34 571.65,748.65 573.10,751.04 C574.55,753.43 576.00,755.92 577.45,758.48 C578.90,761.04 580.35,763.68 581.80,766.38 C583.25,769.09 584.70,771.87 586.15,774.69 C587.61,777.51 589.06,780.40 590.51,783.32 C591.96,786.24 593.41,789.22 594.86,792.21 C596.31,795.20 597.76,798.24 599.21,801.29 C600.66,804.33 602.11,807.41 603.57,810.48 C605.02,813.55 606.47,816.65 607.92,819.73 C609.37,822.81 610.82,825.89 612.27,828.96 C613.72,832.03 615.17,835.09 616.62,838.12 C618.07,841.16 619.52,844.18 620.98,847.16 C622.43,850.14 623.88,853.10 625.33,856.01 C626.78,858.93 628.23,861.81 629.68,864.65 C631.13,867.48 632.58,870.28 634.03,873.01 C635.48,875.75 636.93,878.45 638.38,881.09 C639.84,883.72 641.29,886.31 642.74,888.83 C644.19,891.35 645.64,893.82 647.09,896.22 C648.54,898.62 649.99,900.96 651.44,903.24 C652.89,905.52 654.34,907.73 655.80,909.88 C657.25,912.03 658.70,914.11 660.15,916.13 C661.60,918.14 663.05,920.09 664.50,921.98 C665.95,923.86 667.40,925.68 668.85,927.43 C670.30,929.19 671.75,930.88 673.20,932.50 C674.66,934.13 676.11,935.68 677.56,937.18 C679.01,938.68 680.46,940.12 681.91,941.49 C683.36,942.87 684.81,944.19 686.26,945.45 C687.71,946.71 689.16,947.90 690.62,949.05 C692.07,950.20 693.52,951.29 694.97,952.33 C696.42,953.37 697.87,954.36 699.32,955.30 C700.77,956.24 702.22,957.12 703.67,957.97 C705.12,958.82 706.57,959.61 708.03,960.37 C709.48,961.13 710.93,961.84 712.38,962.52 C713.83,963.19 715.28,963.83 716.73,964.43 C718.18,965.03 719.63,965.59 721.08,966.13 C722.53,966.66 723.98,967.16 725.43,967.63 C726.89,968.10 728.34,968.53 729.79,968.95 C731.24,969.36 732.69,969.74 734.14,970.10 C735.59,970.47 737.04,970.80 738.49,971.11 C739.94,971.43 741.39,971.72 742.85,971.99 C744.30,972.27 745.75,972.52 747.20,972.76 C748.65,972.99 750.10,973.21 751.55,973.42 C753.00,973.62 754.45,973.81 755.90,973.98 C757.35,974.16 758.80,974.32 760.26,974.47 C761.71,974.62 763.16,974.75 764.61,974.88 C766.06,975.01 767.51,975.13 768.96,975.24 C770.41,975.34 771.86,975.44 773.31,975.53 C774.76,975.63 776.21,975.71 777.66,975.79 C779.12,975.86 780.57,975.93 782.02,976.00 C783.47,976.06 784.92,976.12 786.37,976.18 C787.82,976.23 789.27,976.28 790.72,976.33 C792.17,976.37 793.62,976.41 795.08,976.45 C796.53,976.49 797.98,976.52 799.43,976.55 C800.88,976.58 802.33,976.61 803.78,976.64 C805.23,976.66 806.68,976.68 808.13,976.71 C809.58,976.73 811.03,976.75 812.49,976.76 C813.94,976.78 815.39,976.80 816.84,976.81 C818.29,976.82 819.74,976.84 821.19,976.85 C822.64,976.86 824.09,976.87 825.54,976.88 C826.99,976.89 828.44,976.90 829.89,976.90 C831.35,976.91 832.80,976.92 834.25,976.92 C835.70,976.93 837.15,976.93 838.60,976.94 C840.05,976.94 841.50,976.95 842.95,976.95 C844.40,976.96 845.85,976.96 847.31,976.96 C848.76,976.97 850.21,976.97 851.66,976.97 C853.11,976.97 854.56,976.98 856.01,976.98 C857.46,976.98 858.91,976.98 860.36,976.98 C861.81,976.98 863.26,976.99 864.71,976.99 C866.17,976.99 867.62,976.99 869.07,976.99 C870.52,976.99 871.97,976.99 873.42,976.99 C874.87,976.99 876.32,976.99 877.77,976.99 C879.22,976.99 880.67,976.99 882.12,977.00 C883.58,977.00 885.03,977.00 886.48,977.00 C887.93,977.00 889.38,977.00 890.83,977.00 C892.28,977.00 893.73,977.00 895.18,977.00 C896.63,977.00 898.08,977.00 899.54,977.00 C900.99,977.00 902.44,977.00 903.89,977.00 C905.34,977.00 906.79,977.00 908.24,977.00 C909.69,977.00 911.14,977.00 912.59,977.00 C914.04,977.00 915.49,977.00 916.94,977.00 C918.40,977.00 919.85,977.00 921.30,977.00 C922.75,977.00 924.20,977.00 925.65,977.00 C927.10,977.00 928.55,977.00 930.00,977.00 C931.45,977.00 932.90,977.00 934.36,977.00 C935.81,977.00 937.26,977.00 938.71,977.00 C940.16,977.00 941.61,977.00 943.06,977.00 C944.51,977.00 945.96,977.00 947.41,977.00 C948.86,977.00 950.31,977.00 951.77,977.00 C953.22,977.00 954.67,977.00 956.12,977.00 C957.57,977.00 959.02,977.00 960.47,977.00 C961.92,977.00 963.37,977.00 964.82,977.00 C966.27,977.00 967.72,977.00 969.17,977.00 C970.63,977.00 972.08,977.00 973.53,977.00 C974.98,977.00 976.43,977.00 977.88,977.00 C979.33,977.00 980.78,977.00 982.23,977.00 C983.68,977.00 985.13,977.00 986.59,977.00 C988.04,977.00 989.49,977.00 990.94,977.00 C992.39,977.00 993.84,977.00 995.29,977.00 C996.74,977.00 998.19,977.00 999.64,977.00 C1001.09,977.00 1002.54,977.00 1004.00,977.00 C1005.45,977.00 1006.90,977.00 1008.35,977.00 C1009.80,977.00 1011.25,977.00 1012.70,977.00 C1014.15,977.00 1015.60,977.00 1017.05,977.00 C1018.50,977.00 1019.95,977.00 1021.40,977.00 C1022.86,977.00 1024.31,977.00 1025.76,977.00 C1027.21,977.00 1028.66,977.00 1030.11,977.00 C1031.56,977.00 1033.01,977.00 1034.46,977.00 C1035.91,977.00 1037.36,977.00 1038.82,977.00 C1040.27,977.00 1041.72,977.00 1043.17,977.00 C1044.62,977.00 1046.07,977.00 1047.52,977.00 C1048.97,977.00 1050.42,977.00 1051.87,977.00 C1053.32,977.00 1054.77,977.00 1056.23,977.00 C1057.68,977.00 1059.13,977.00 1060.58,977.00 C1062.03,977.00 1063.48,977.00 1064.93,977.00 C1066.38,977.00 1067.83,977.00 1069.28,977.00 C1070.73,977.00 1072.18,977.00 1073.63,977.00 C1075.09,977.00 1076.54,977.00 1077.99,977.00 C1079.44,977.00 1080.89,977.00 1082.34,977.00 C1083.79,977.00 1085.24,977.00 1086.69,977.00 C1088.14,977.00 1089.59,977.00 1091.05,977.00 C1092.50,977.00 1093.95,977.00 1095.40,977.00 C1096.85,977.00 1098.30,977.00 1099.75,977.00 C1101.20,977.00 1102.65,977.00 1104.10,977.00 C1105.55,977.00 1107.00,977.00 1108.46,977.00 C1109.91,977.00 1111.36,977.00 1112.81,977.00 C1114.26,977.00 1115.71,977.00 1117.16,977.00 C1118.61,977.00 1120.06,977.00 1121.51,977.00 C1122.96,977.00 1124.41,977.00 1125.87,977.00 C1127.32,977.00 1128.77,977.00 1130.22,977.00 C1131.67,977.00 1133.12,977.00 1134.57,977.00 C1136.02,977.00 1137.47,977.00 1138.92,977.00 C1140.37,977.00 1141.82,977.00 1143.28,977.00 C1144.73,977.00 1146.18,977.00 1147.63,977.00 C1149.08,977.00 1150.53,977.00 1151.98,977.00 C1153.43,977.00 1154.88,977.00 1156.33,977.00 C1157.78,977.00 1159.23,977.00 1160.68,977.00 C1162.14,977.00 1163.59,977.00 1165.04,977.00 C1166.49,977.00 1167.94,977.00 1169.39,977.00 C1170.84,977.00 1172.29,977.00 1173.74,977.00 C1175.19,977.00 1176.64,977.00 1178.10,977.00 C1179.55,977.00 1181.00,977.00 1182.45,977.00 C1183.90,977.00 1185.35,977.00 1186.80,977.00 C1188.25,977.00 1189.70,977.00 1191.15,977.00 C1192.60,977.00 1194.05,977.00 1195.51,977.00 C1196.96,977.00 1198.41,977.00 1199.86,977.00 C1201.31,977.00 1202.76,977.00 1204.21,977.00 C1205.66,977.00 1207.11,977.00 1208.56,977.00 C1210.01,977.00 1211.46,977.00 1212.92,977.00 C1214.37,977.00 1215.82,977.00 1217.27,977.00 C1218.72,977.00 1220.17,977.00 1221.62,977.00 C1223.07,977.00 1224.52,977.00 1225.97,977.00 C1227.42,977.00 1228.87,977.00 1230.33,977.00 C1231.78,977.00 1233.23,977.00 1234.68,977.00 C1236.13,977.00 1237.58,977.00 1239.03,977.00 C1240.48,977.00 1241.93,977.00 1243.38,977.00 C1244.83,977.00 1246.28,977.00 1247.74,977.00 C1249.19,977.00 1250.64,977.00 1252.09,977.00 C1253.54,977.00 1254.99,977.00 1256.44,977.00 C1257.89,977.00 1259.34,977.00 1260.79,977.00 C1262.24,977.00 1263.69,977.00 1265.15,977.00 C1266.60,977.00 1268.05,977.00 1269.50,977.00 C1270.95,977.00 1273.12,977.00 1273.85,977.00" fill="none" stroke="#0000ff" stroke-width="4.5" stroke-linejoin="round"/>
<path d="M403.35,977.00 C405.61,977.00 416.23,977.00 420.76,977.00 C425.29,977.00 433.64,977.00 438.17,977.00 C442.70,977.00 451.05,977.00 455.58,977.00 C460.11,977.00 468.46,977.00 472.99,977.00 C477.52,977.00 485.87,977.00 490.40,977.00 C494.93,977.00 503.28,977.00 507.81,977.00 C512.34,977.00 520.69,977.00 525.22,977.00 C529.75,977.00 538.10,977.03 542.63,976.98 C547.16,976.93 555.51,977.21 560.04,976.61 C564.57,976.00 572.92,976.16 577.45,972.30 C581.98,968.45 590.33,959.80 594.86,946.93 C599.39,934.05 607.74,894.41 612.27,873.28 C616.80,852.14 625.15,795.93 629.68,784.37 C634.21,772.81 642.56,772.81 647.09,784.37 C651.62,795.93 659.97,852.14 664.50,873.28 C669.03,894.41 677.38,934.05 681.91,946.93 C686.44,959.80 694.79,968.45 699.32,972.30 C703.85,976.16 712.20,976.00 716.73,976.61 C721.26,977.21 729.61,976.93 734.14,976.98 C738.67,977.03 747.02,977.00 751.55,977.00 C756.08,977.00 764.43,977.00 768.96,977.00 C773.49,977.00 781.84,977.00 786.37,977.00 C790.90,977.00 799.25,977.00 803.78,977.00 C808.31,977.00 816.66,977.00 821.19,977.00 C825.72,977.00 834.07,977.00 838.60,977.00 C843.13,977.00 851.48,977.00 856.01,977.00 C860.54,977.00 868.89,977.00 873.42,977.00 C877.95,977.00 886.30,977.00 890.83,977.00 C895.36,977.00 903.71,977.00 908.24,977.00 C912.77,977.00 921.12,977.00 925.65,977.00 C930.18,977.00 938.53,977.00 943.06,977.00 C947.59,977.00 958.21,977.00 960.47,977.00" fill="none" stroke="#ff00ff" stroke-width="4.5" stroke-linejoin="round" stroke-dasharray="29.4 18.2" stroke-dashoffset="10.13" stroke-linecap="round"/>
<path d="M403.35,977.00 C404.08,977.00 406.25,977.00 407.70,977.00 C409.15,977.00 410.60,977.00 412.06,977.00 C413.51,977.00 414.96,977.00 416.41,977.00 C417.86,977.00 419.31,977.00 420.76,977.00 C422.21,977.00 423.66,977.00 425.11,977.00 C426.56,977.00 428.01,977.00 429.47,977.00 C430.92,977.00 432.37,977.00 433.82,977.00 C435.27,977.00 436.72,977.00 438.17,977.00 C439.62,977.00 441.07,977.00 442.52,977.00 C443.97,977.00 445.42,977.00 446.88,977.00 C448.33,977.00 449.78,977.00 451.23,977.00 C452.68,977.00 454.13,977.00 455.58,977.00 C457.03,977.00 458.48,977.00 459.93,977.00 C461.38,977.00 462.83,977.00 464.29,977.00 C465.74,977.00 467.19,977.00 468.64,977.00 C470.09,977.00 471.54,977.00 472.99,977.00 C474.44,977.00 475.89,977.00 477.34,977.00 C478.79,977.00 480.24,977.00 481.69,977.00 C483.15,977.00 484.60,977.00 486.05,977.00 C487.50,977.00 488.95,977.00 490.40,977.00 C491.85,977.00 493.30,977.00 494.75,977.00 C496.20,977.00 497.65,977.00 499.11,977.00 C500.56,977.00 502.01,977.00 503.46,976.99 C504.91,976.99 506.36,976.99 507.81,976.99 C509.26,976.99 510.71,976.99 512.16,976.99 C513.61,976.99 515.06,976.99 516.51,976.99 C517.97,976.99 519.42,976.99 520.87,976.99 C522.32,976.99 523.77,976.99 525.22,976.99 C526.67,976.99 528.12,976.99 529.57,976.98 C531.02,976.98 532.47,976.98 533.92,976.98 C535.38,976.98 536.83,976.98 538.28,976.98 C539.73,976.98 541.18,976.98 542.63,976.97 C544.08,976.97 545.53,976.97 546.98,976.97 C548.43,976.97 549.88,976.97 551.34,976.96 C552.79,976.96 554.24,976.96 555.69,976.96 C557.14,976.96 558.59,976.95 560.04,976.95 C561.49,976.95 562.94,976.94 564.39,976.94 C565.84,976.94 567.29,976.93 568.75,976.93 C570.20,976.93 571.65,976.92 573.10,976.92 C574.55,976.91 576.00,976.91 577.45,976.91 C578.90,976.90 580.35,976.89 581.80,976.89 C583.25,976.88 584.70,976.88 586.15,976.87 C587.61,976.86 589.06,976.86 590.51,976.85 C591.96,976.84 593.41,976.83 594.86,976.83 C596.31,976.82 597.76,976.81 599.21,976.80 C600.66,976.79 602.11,976.78 603.57,976.77 C605.02,976.75 606.47,976.74 607.92,976.73 C609.37,976.72 610.82,976.70 612.27,976.69 C613.72,976.67 615.17,976.66 616.62,976.64 C618.07,976.62 619.52,976.60 620.98,976.59 C622.43,976.57 623.88,976.55 625.33,976.52 C626.78,976.50 628.23,976.48 629.68,976.45 C631.13,976.43 632.58,976.40 634.03,976.38 C635.48,976.35 636.93,976.32 638.38,976.29 C639.84,976.26 641.29,976.22 642.74,976.19 C644.19,976.15 645.64,976.11 647.09,976.07 C648.54,976.03 649.99,975.99 651.44,975.95 C652.89,975.90 654.34,975.86 655.80,975.81 C657.25,975.76 658.70,975.71 660.15,975.65 C661.60,975.59 663.05,975.54 664.50,975.47 C665.95,975.41 667.40,975.35 668.85,975.28 C670.30,975.21 671.75,975.14 673.20,975.06 C674.66,974.98 676.11,974.90 677.56,974.82 C679.01,974.74 680.46,974.65 681.91,974.55 C683.36,974.46 684.81,974.36 686.26,974.26 C687.71,974.16 689.16,974.05 690.62,973.93 C692.07,973.82 693.52,973.70 694.97,973.58 C696.42,973.45 697.87,973.32 699.32,973.18 C700.77,973.05 702.22,972.90 703.67,972.75 C705.12,972.60 706.57,972.45 708.03,972.28 C709.48,972.12 710.93,971.95 712.38,971.77 C713.83,971.59 715.28,971.41 716.73,971.21 C718.18,971.02 719.63,970.82 721.08,970.60 C722.53,970.39 723.98,970.17 725.43,969.95 C726.89,969.72 728.34,969.48 729.79,969.23 C731.24,968.98 732.69,968.73 734.14,968.46 C735.59,968.19 737.04,967.92 738.49,967.63 C739.94,967.34 741.39,967.05 742.85,966.74 C744.30,966.43 745.75,966.11 747.20,965.78 C748.65,965.44 750.10,965.10 751.55,964.75 C753.00,964.39 754.45,964.03 755.90,963.65 C757.35,963.27 758.80,962.88 760.26,962.48 C761.71,962.07 763.16,961.66 764.61,961.23 C766.06,960.80 767.51,960.36 768.96,959.90 C770.41,959.45 771.86,958.98 773.31,958.49 C774.76,958.01 776.21,957.52 777.66,957.01 C779.12,956.50 780.57,955.98 782.02,955.44 C783.47,954.90 784.92,954.35 786.37,953.79 C787.82,953.23 789.27,952.65 790.72,952.06 C792.17,951.46 793.62,950.86 795.08,950.24 C796.53,949.62 797.98,948.99 799.43,948.34 C800.88,947.69 802.33,947.03 803.78,946.36 C805.23,945.68 806.68,945.00 808.13,944.30 C809.58,943.60 811.03,942.88 812.49,942.16 C813.94,941.43 815.39,940.69 816.84,939.94 C818.29,939.19 819.74,938.43 821.19,937.65 C822.64,936.88 824.09,936.09 825.54,935.30 C826.99,934.50 828.44,933.69 829.89,932.88 C831.35,932.06 832.80,931.23 834.25,930.40 C835.70,929.56 837.15,928.72 838.60,927.86 C840.05,927.01 841.50,926.15 842.95,925.28 C844.40,924.41 845.85,923.54 847.31,922.66 C848.76,921.78 850.21,920.89 851.66,920.00 C853.11,919.11 854.56,918.21 856.01,917.32 C857.46,916.42 858.91,915.52 860.36,914.61 C861.81,913.71 863.26,912.81 864.71,911.90 C866.17,911.00 867.62,910.10 869.07,909.19 C870.52,908.29 871.97,907.39 873.42,906.49 C874.87,905.60 876.32,904.70 877.77,903.81 C879.22,902.92 880.67,902.04 882.12,901.16 C883.58,900.28 885.03,899.41 886.48,898.55 C887.93,897.69 889.38,896.83 890.83,895.99 C892.28,895.14 893.73,894.31 895.18,893.49 C896.63,892.67 898.08,891.86 899.54,891.06 C900.99,890.27 902.44,889.48 903.89,888.72 C905.34,887.95 906.79,887.20 908.24,886.47 C909.69,885.73 911.14,885.02 912.59,884.32 C914.04,883.62 915.49,882.94 916.94,882.29 C918.40,881.63 919.85,880.99 921.30,880.38 C922.75,879.76 924.20,879.17 925.65,878.60 C927.10,878.03 928.55,877.48 930.00,876.96 C931.45,876.44 932.90,875.94 934.36,875.47 C935.81,875.01 937.26,874.56 938.71,874.14 C940.16,873.73 941.61,873.34 943.06,872.98 C944.51,872.62 945.96,872.28 947.41,871.98 C948.86,871.68 950.31,871.40 951.77,871.16 C953.22,870.91 954.67,870.69 956.12,870.51 C957.57,870.33 959.02,870.17 960.47,870.05 C961.92,869.92 963.37,869.83 964.82,869.77 C966.27,869.71 967.72,869.67 969.17,869.67 C970.63,869.67 972.08,869.71 973.53,869.77 C974.98,869.83 976.43,869.92 977.88,870.05 C979.33,870.17 980.78,870.33 982.23,870.51 C983.68,870.69 985.13,870.91 986.59,871.16 C988.04,871.40 989.49,871.68 990.94,871.98 C992.39,872.28 993.84,872.62 995.29,872.98 C996.74,873.34 998.19,873.73 999.64,874.14 C1001.09,874.56 1002.54,875.01 1004.00,875.47 C1005.45,875.94 1006.90,876.44 1008.35,876.96 C1009.80,877.48 1011.25,878.03 1012.70,878.60 C1014.15,879.17 1015.60,879.76 1017.05,880.38 C1018.50,880.99 1019.95,881.63 1021.40,882.29 C1022.86,882.94 1024.31,883.62 1025.76,884.32 C1027.21,885.02 1028.66,885.73 1030.11,886.47 C1031.56,887.20 1033.01,887.95 1034.46,888.72 C1035.91,889.48 1037.36,890.27 1038.82,891.06 C1040.27,891.86 1041.72,892.67 1043.17,893.49 C1044.62,894.31 1046.07,895.14 1047.52,895.99 C1048.97,896.83 1050.42,897.69 1051.87,898.55 C1053.32,899.41 1054.77,900.28 1056.23,901.16 C1057.68,902.04 1059.13,902.92 1060.58,903.81 C1062.03,904.70 1063.48,905.60 1064.93,906.49 C1066.38,907.39 1067.83,908.29 1069.28,909.19 C1070.73,910.10 1072.18,911.00 1073.63,911.90 C1075.09,912.81 1076.54,913.71 1077.99,914.61 C1079.44,915.52 1080.89,916.42 1082.34,917.32 C1083.79,918.21 1085.24,919.11 1086.69,920.00 C1088.14,920.89 1089.59,921.78 1091.05,922.66 C1092.50,923.54 1093.95,924.41 1095.40,925.28 C1096.85,926.15 1098.30,927.01 1099.75,927.86 C1101.20,928.72 1102.65,929.56 1104.10,930.40 C1105.55,931.23 1107.00,932.06 1108.46,932.88 C1109.91,933.69 1111.36,934.50 1112.81,935.30 C1114.26,936.09 1115.71,936.88 1117.16,937.65 C1118.61,938.43 1120.06,939.19 1121.51,939.94 C1122.96,940.69 1124.41,941.43 1125.87,942.16 C1127.32,942.88 1128.77,943.60 1130.22,944.30 C1131.67,945.00 1133.12,945.68 1134.57,946.36 C1136.02,947.03 1137.47,947.69 1138.92,948.34 C1140.37,948.99 1141.82,949.62 1143.28,950.24 C1144.73,950.86 1146.18,951.46 1147.63,952.06 C1149.08,952.65 1150.53,953.23 1151.98,953.79 C1153.43,954.35 1154.88,954.90 1156.33,955.44 C1157.78,955.98 1159.23,956.50 1160.68,957.01 C1162.14,957.52 1163.59,958.01 1165.04,958.49 C1166.49,958.98 1167.94,959.45 1169.39,959.90 C1170.84,960.36 1172.29,960.80 1173.74,961.23 C1175.19,961.66 1176.64,962.07 1178.10,962.48 C1179.55,962.88 1181.00,963.27 1182.45,963.65 C1183.90,964.03 1185.35,964.39 1186.80,964.75 C1188.25,965.10 1189.70,965.44 1191.15,965.78 C1192.60,966.11 1194.05,966.43 1195.51,966.74 C1196.96,967.05 1198.41,967.34 1199.86,967.63 C1201.31,967.92 1202.76,968.19 1204.21,968.46 C1205.66,968.73 1207.11,968.98 1208.56,969.23 C1210.01,969.48 1211.46,969.72 1212.92,969.95 C1214.37,970.17 1215.82,970.39 1217.27,970.60 C1218.72,970.82 1220.17,971.02 1221.62,971.21 C1223.07,971.41 1224.52,971.59 1225.97,971.77 C1227.42,971.95 1228.87,972.12 1230.33,972.28 C1231.78,972.45 1233.23,972.60 1234.68,972.75 C1236.13,972.90 1237.58,973.05 1239.03,973.18 C1240.48,973.32 1241.93,973.45 1243.38,973.58 C1244.83,973.70 1246.28,973.82 1247.74,973.93 C1249.19,974.05 1250.64,974.16 1252.09,974.26 C1253.54,974.36 1254.99,974.46 1256.44,974.55 C1257.89,974.65 1259.34,974.74 1260.79,974.82 C1262.24,974.90 1263.69,974.98 1265.15,975.06 C1266.60,975.14 1268.05,975.21 1269.50,975.28 C1270.95,975.35 1273.12,975.44 1273.85,975.47" fill="none" stroke="#008000" stroke-width="4.5" stroke-linejoin="round" stroke-dasharray="11.5 17.2 0 17.7" stroke-dashoffset="0.73" stroke-linecap="round"/>
<path d="M403.35,977.00 C404.08,977.00 406.25,977.00 407.70,977.00 C409.15,977.00 410.60,977.00 412.06,977.00 C413.51,977.00 414.96,977.00 416.41,977.00 C417.86,977.00 419.31,977.00 420.76,977.00 C422.21,977.00 423.66,977.00 425.11,977.00 C426.56,977.00 428.01,977.00 429.47,977.00 C430.92,977.00 432.37,977.00 433.82,977.00 C435.27,977.00 436.72,977.00 438.17,977.00 C439.62,977.00 441.07,977.00 442.52,977.00 C443.97,977.00 445.42,977.00 446.88,977.00 C448.33,977.00 449.78,977.00 451.23,977.00 C452.68,977.00 454.13,977.00 455.58,977.00 C457.03,977.00 458.48,977.00 459.93,977.00 C461.38,977.00 462.83,977.00 464.29,977.00 C465.74,977.00 467.19,977.00 468.64,977.00 C470.09,977.00 471.54,977.00 472.99,977.00 C474.44,977.00 475.89,977.00 477.34,977.00 C478.79,977.00 480.24,977.00 481.69,977.00 C483.15,977.00 484.60,977.00 486.05,977.00 C487.50,977.00 488.95,977.00 490.40,977.00 C491.85,977.00 493.30,977.00 494.75,977.00 C496.20,977.00 497.65,977.00 499.11,977.00 C500.56,977.00 502.01,977.00 503.46,977.00 C504.91,977.00 506.36,977.00 507.81,977.00 C509.26,977.00 510.71,977.00 512.16,977.00 C513.61,977.00 515.06,977.00 516.51,977.00 C517.97,977.00 519.42,977.00 520.87,977.00 C522.32,977.00 523.77,977.00 525.22,977.00 C526.67,977.00 528.12,977.00 529.57,977.00 C531.02,977.00 532.47,977.00 533.92,977.00 C535.38,977.00 536.83,977.00 538.28,977.00 C539.73,977.00 541.18,977.00 542.63,977.00 C544.08,977.00 545.53,977.00 546.98,977.00 C548.43,977.00 549.88,977.00 551.34,977.00 C552.79,977.00 554.24,977.00 555.69,977.00 C557.14,977.00 558.59,977.00 560.04,977.00 C561.49,977.00 562.94,977.00 564.39,977.00 C565.84,977.00 567.29,977.00 568.75,977.00 C570.20,977.00 571.65,977.00 573.10,977.00 C574.55,977.00 576.00,977.00 577.45,977.00 C578.90,977.00 580.35,977.00 581.80,977.00 C583.25,977.00 584.70,977.00 586.15,977.00 C587.61,977.00 589.06,977.00 590.51,977.00 C591.96,977.00 593.41,977.00 594.86,977.00 C596.31,977.00 597.76,977.00 599.21,977.00 C600.66,977.00 602.11,977.00 603.57,977.00 C605.02,977.00 606.47,977.00 607.92,977.00 C609.37,977.00 610.82,977.00 612.27,977.00 C613.72,977.00 615.17,977.00 616.62,977.00 C618.07,977.00 619.52,977.00 620.98,977.00 C622.43,977.00 623.88,977.00 625.33,977.00 C626.78,977.00 628.23,977.00 629.68,977.00 C631.13,977.00 632.58,977.00 634.03,977.00 C635.48,977.00 636.93,977.00 638.38,977.00 C639.84,977.00 641.29,977.00 642.74,977.00 C644.19,977.00 645.64,977.00 647.09,977.00 C648.54,977.00 649.99,977.00 651.44,977.00 C652.89,977.00 654.34,977.00 655.80,977.00 C657.25,977.00 658.70,977.00 660.15,977.00 C661.60,977.00 663.05,977.00 664.50,977.00 C665.95,977.00 667.40,977.00 668.85,977.00 C670.30,977.00 671.75,977.00 673.20,977.00 C674.66,977.00 676.11,977.00 677.56,977.00 C679.01,977.00 680.46,977.00 681.91,977.00 C683.36,977.00 684.81,977.00 686.26,977.00 C687.71,977.00 689.16,977.00 690.62,977.00 C692.07,977.00 693.52,977.00 694.97,977.00 C696.42,977.00 697.87,977.00 699.32,977.00 C700.77,977.00 702.22,977.00 703.67,977.00 C705.12,977.00 706.57,977.00 708.03,977.00 C709.48,977.00 710.93,977.00 712.38,977.00 C713.83,977.00 715.28,977.00 716.73,977.00 C718.18,977.00 719.63,977.00 721.08,977.00 C722.53,977.00 723.98,977.00 725.43,977.00 C726.89,977.00 728.34,977.00 729.79,977.00 C731.24,977.00 732.69,977.00 734.14,977.00 C735.59,977.00 737.04,977.00 738.49,977.00 C739.94,977.00 741.39,977.00 742.85,977.00 C744.30,977.00 745.75,977.00 747.20,977.00 C748.65,977.00 750.10,977.00 751.55,977.00 C753.00,977.00 754.45,977.00 755.90,977.00 C757.35,977.00 758.80,976.99 760.26,976.99 C761.71,976.99 763.16,976.99 764.61,976.99 C766.06,976.99 767.51,976.99 768.96,976.99 C770.41,976.99 771.86,976.99 773.31,976.99 C774.76,976.98 776.21,976.98 777.66,976.98 C779.12,976.98 780.57,976.98 782.02,976.97 C783.47,976.97 784.92,976.97 786.37,976.97 C787.82,976.96 789.27,976.96 790.72,976.95 C792.17,976.95 793.62,976.95 795.08,976.94 C796.53,976.93 797.98,976.93 799.43,976.92 C800.88,976.91 802.33,976.91 803.78,976.90 C805.23,976.89 806.68,976.88 808.13,976.87 C809.58,976.85 811.03,976.84 812.49,976.83 C813.94,976.81 815.39,976.79 816.84,976.78 C818.29,976.76 819.74,976.74 821.19,976.71 C822.64,976.69 824.09,976.66 825.54,976.63 C826.99,976.60 828.44,976.57 829.89,976.54 C831.35,976.50 832.80,976.46 834.25,976.41 C835.70,976.37 837.15,976.32 838.60,976.27 C840.05,976.21 841.50,976.15 842.95,976.08 C844.40,976.01 845.85,975.94 847.31,975.86 C848.76,975.78 850.21,975.69 851.66,975.59 C853.11,975.49 854.56,975.39 856.01,975.27 C857.46,975.15 858.91,975.02 860.36,974.88 C861.81,974.74 863.26,974.59 864.71,974.42 C866.17,974.25 867.62,974.08 869.07,973.88 C870.52,973.68 871.97,973.47 873.42,973.24 C874.87,973.01 876.32,972.76 877.77,972.49 C879.22,972.22 880.67,971.94 882.12,971.62 C883.58,971.31 885.03,970.98 886.48,970.62 C887.93,970.26 889.38,969.88 890.83,969.47 C892.28,969.06 893.73,968.63 895.18,968.16 C896.63,967.69 898.08,967.20 899.54,966.67 C900.99,966.14 902.44,965.59 903.89,964.99 C905.34,964.40 906.79,963.78 908.24,963.11 C909.69,962.45 911.14,961.76 912.59,961.02 C914.04,960.29 915.49,959.52 916.94,958.71 C918.40,957.90 919.85,957.05 921.30,956.17 C922.75,955.28 924.20,954.36 925.65,953.40 C927.10,952.43 928.55,951.43 930.00,950.39 C931.45,949.35 932.90,948.27 934.36,947.15 C935.81,946.03 937.26,944.88 938.71,943.69 C940.16,942.50 941.61,941.27 943.06,940.02 C944.51,938.76 945.96,937.47 947.41,936.15 C948.86,934.83 950.31,933.48 951.77,932.11 C953.22,930.73 954.67,929.33 956.12,927.91 C957.57,926.50 959.02,925.05 960.47,923.60 C961.92,922.15 963.37,920.68 964.82,919.21 C966.27,917.74 967.72,916.25 969.17,914.77 C970.63,913.29 972.08,911.80 973.53,910.33 C974.98,908.86 976.43,907.39 977.88,905.94 C979.33,904.50 980.78,903.06 982.23,901.65 C983.68,900.24 985.13,898.85 986.59,897.50 C988.04,896.15 989.49,894.83 990.94,893.55 C992.39,892.28 993.84,891.04 995.29,889.86 C996.74,888.67 998.19,887.53 999.64,886.46 C1001.09,885.38 1002.54,884.36 1004.00,883.40 C1005.45,882.45 1006.90,881.56 1008.35,880.74 C1009.80,879.92 1011.25,879.17 1012.70,878.50 C1014.15,877.84 1015.60,877.24 1017.05,876.73 C1018.50,876.22 1019.95,875.79 1021.40,875.44 C1022.86,875.10 1024.31,874.84 1025.76,874.66 C1027.21,874.49 1028.66,874.40 1030.11,874.40 C1031.56,874.40 1033.01,874.49 1034.46,874.66 C1035.91,874.84 1037.36,875.10 1038.82,875.44 C1040.27,875.79 1041.72,876.22 1043.17,876.73 C1044.62,877.24 1046.07,877.84 1047.52,878.50 C1048.97,879.17 1050.42,879.92 1051.87,880.74 C1053.32,881.56 1054.77,882.45 1056.23,883.40 C1057.68,884.36 1059.13,885.38 1060.58,886.46 C1062.03,887.53 1063.48,888.67 1064.93,889.86 C1066.38,891.04 1067.83,892.28 1069.28,893.55 C1070.73,894.83 1072.18,896.15 1073.63,897.50 C1075.09,898.85 1076.54,900.24 1077.99,901.65 C1079.44,903.06 1080.89,904.50 1082.34,905.94 C1083.79,907.39 1085.24,908.86 1086.69,910.33 C1088.14,911.80 1089.59,913.29 1091.05,914.77 C1092.50,916.25 1093.95,917.74 1095.40,919.21 C1096.85,920.68 1098.30,922.15 1099.75,923.60 C1101.20,925.05 1102.65,926.50 1104.10,927.91 C1105.55,929.33 1107.00,930.73 1108.46,932.11 C1109.91,933.48 1111.36,934.83 1112.81,936.15 C1114.26,937.47 1115.71,938.76 1117.16,940.02 C1118.61,941.27 1120.06,942.50 1121.51,943.69 C1122.96,944.88 1124.41,946.03 1125.87,947.15 C1127.32,948.27 1128.77,949.35 1130.22,950.39 C1131.67,951.43 1133.12,952.43 1134.57,953.40 C1136.02,954.36 1137.47,955.28 1138.92,956.17 C1140.37,957.05 1141.82,957.90 1143.28,958.71 C1144.73,959.52 1146.18,960.29 1147.63,961.02 C1149.08,961.76 1150.53,962.45 1151.98,963.11 C1153.43,963.78 1154.88,964.40 1156.33,964.99 C1157.78,965.59 1159.23,966.14 1160.68,966.67 C1162.14,967.20 1163.59,967.69 1165.04,968.16 C1166.49,968.63 1167.94,969.06 1169.39,969.47 C1170.84,969.88 1172.29,970.26 1173.74,970.62 C1175.19,970.98 1176.64,971.31 1178.10,971.62 C1179.55,971.94 1181.00,972.22 1182.45,972.49 C1183.90,972.76 1185.35,973.01 1186.80,973.24 C1188.25,973.47 1189.70,973.68 1191.15,973.88 C1192.60,974.08 1194.05,974.25 1195.51,974.42 C1196.96,974.59 1198.41,974.74 1199.86,974.88 C1201.31,975.02 1202.76,975.15 1204.21,975.27 C1205.66,975.39 1207.11,975.49 1208.56,975.59 C1210.01,975.69 1211.46,975.78 1212.92,975.86 C1214.37,975.94 1215.82,976.01 1217.27,976.08 C1218.72,976.15 1220.17,976.21 1221.62,976.27 C1223.07,976.32 1224.52,976.37 1225.97,976.41 C1227.42,976.46 1228.87,976.50 1230.33,976.54 C1231.78,976.57 1233.23,976.60 1234.68,976.63 C1236.13,976.66 1237.58,976.69 1239.03,976.71 C1240.48,976.74 1241.93,976.76 1243.38,976.78 C1244.83,976.79 1246.28,976.81 1247.74,976.83 C1249.19,976.84 1250.64,976.85 1252.09,976.87 C1253.54,976.88 1254.99,976.89 1256.44,976.90 C1257.89,976.91 1259.34,976.91 1260.79,976.92 C1262.24,976.93 1263.69,976.93 1265.15,976.94 C1266.60,976.95 1268.05,976.95 1269.50,976.95 C1270.95,976.96 1273.12,976.96 1273.85,976.97" fill="none" stroke="#ff0000" stroke-width="4.5" stroke-linejoin="round" stroke-dasharray="12.4 17.2" stroke-dashoffset="4.15" stroke-linecap="round"/>
<line x1="326.2" y1="306.3" x2="326.2" y2="469.0" stroke="#000" stroke-width="4.7" stroke-dasharray="0 8.4" stroke-linecap="round"/>
<line x1="475.8" y1="264.1" x2="475.8" y2="469.0" stroke="#000" stroke-width="4.7" stroke-dasharray="0 8.4" stroke-linecap="round"/>
<line x1="574.9" y1="156.4" x2="574.9" y2="469.0" stroke="#000" stroke-width="4.7" stroke-dasharray="0 8.4" stroke-linecap="round"/>
<line x1="808.4" y1="155.3" x2="808.4" y2="469.0" stroke="#000" stroke-width="4.7" stroke-dasharray="0 8.4" stroke-linecap="round"/>
<line x1="530.9" y1="658.0" x2="530.9" y2="975.0" stroke="#000" stroke-width="4.7" stroke-dasharray="0 8.4" stroke-linecap="round"/>
<line x1="638.0" y1="743.5" x2="638.0" y2="975.0" stroke="#000" stroke-width="4.7" stroke-dasharray="0 8.4" stroke-linecap="round"/>
<line x1="970.5" y1="676.7" x2="970.5" y2="975.0" stroke="#000" stroke-width="4.7" stroke-dasharray="0 8.4" stroke-linecap="round"/>
<line x1="1031.6" y1="810.6" x2="1031.6" y2="975.0" stroke="#000" stroke-width="4.7" stroke-dasharray="0 8.4" stroke-linecap="round"/>
<text x="87.08" y="484.10" class="tk" style="font-size:40.5px">0</text>
<text x="87.08" y="371.68" class="tk" style="font-size:40.5px">5</text>
<path d="M78.62,259.25 L78.62,231.02 L74.89,231.02 C73.68,234.14 71.04,236.37 66.02,237.06 L66.02,240.30 C68.61,240.22 71.04,239.61 72.87,238.59 L72.87,259.25Z" fill="#000"/>
<text x="87.08" y="259.25" class="tk" style="font-size:40.5px">0</text>
<path d="M78.62,146.83 L78.62,118.60 L74.89,118.60 C73.68,121.72 71.04,123.94 66.02,124.63 L66.02,127.87 C68.61,127.79 71.04,127.18 72.87,126.17 L72.87,146.83Z" fill="#000"/>
<text x="87.08" y="146.83" class="tk" style="font-size:40.5px">5</text>
<text x="64.56" y="34.40" class="tk" style="font-size:40.5px">2</text>
<text x="87.08" y="34.40" class="tk" style="font-size:40.5px">0</text>
<text x="87.08" y="990.10" class="tk" style="font-size:40.5px">0</text>
<text x="87.08" y="877.60" class="tk" style="font-size:40.5px">5</text>
<path d="M78.62,765.10 L78.62,736.87 L74.89,736.87 C73.68,739.99 71.04,742.22 66.02,742.91 L66.02,746.15 C68.61,746.07 71.04,745.46 72.87,744.45 L72.87,765.10Z" fill="#000"/>
<text x="87.08" y="765.10" class="tk" style="font-size:40.5px">0</text>
<path d="M78.62,652.60 L78.62,624.37 L74.89,624.37 C73.68,627.49 71.04,629.72 66.02,630.41 L66.02,633.65 C68.61,633.57 71.04,632.96 72.87,631.95 L72.87,652.60Z" fill="#000"/>
<text x="87.08" y="652.60" class="tk" style="font-size:40.5px">5</text>
<text x="64.56" y="540.10" class="tk" style="font-size:40.5px">2</text>
<text x="87.08" y="540.10" class="tk" style="font-size:40.5px">0</text>
<path d="M123.96,1036.30 L123.96,1008.77 L120.33,1008.77 C119.14,1011.81 116.58,1013.98 111.68,1014.65 L111.68,1017.81 C114.21,1017.73 116.58,1017.14 118.35,1016.15 L118.35,1036.30Z" fill="#000"/>
<text x="132.22" y="1036.30" class="tk" style="font-size:39.5px">0</text>
<text x="154.18" y="1036.30" class="tk" style="font-size:39.5px">0</text>
<text x="284.36" y="1036.30" class="tk" style="font-size:39.5px">3</text>
<text x="306.32" y="1036.30" class="tk" style="font-size:39.5px">0</text>
<text x="328.28" y="1036.30" class="tk" style="font-size:39.5px">0</text>
<text x="458.46" y="1036.30" class="tk" style="font-size:39.5px">5</text>
<text x="480.42" y="1036.30" class="tk" style="font-size:39.5px">0</text>
<text x="502.38" y="1036.30" class="tk" style="font-size:39.5px">0</text>
<text x="632.56" y="1036.30" class="tk" style="font-size:39.5px">7</text>
<text x="654.52" y="1036.30" class="tk" style="font-size:39.5px">0</text>
<text x="676.48" y="1036.30" class="tk" style="font-size:39.5px">0</text>
<text x="806.66" y="1036.30" class="tk" style="font-size:39.5px">9</text>
<text x="828.62" y="1036.30" class="tk" style="font-size:39.5px">0</text>
<text x="850.58" y="1036.30" class="tk" style="font-size:39.5px">0</text>
<path d="M983.48,1036.30 L983.48,1008.77 L979.85,1008.77 C978.66,1011.81 976.10,1013.98 971.20,1014.65 L971.20,1017.81 C973.73,1017.73 976.10,1017.14 977.87,1016.15 L977.87,1036.30Z" fill="#000"/>
<path d="M1005.44,1036.30 L1005.44,1008.77 L1001.81,1008.77 C1000.63,1011.81 998.06,1013.98 993.16,1014.65 L993.16,1017.81 C995.69,1017.73 998.06,1017.14 999.84,1016.15 L999.84,1036.30Z" fill="#000"/>
<text x="1013.70" y="1036.30" class="tk" style="font-size:39.5px">0</text>
<text x="1035.66" y="1036.30" class="tk" style="font-size:39.5px">0</text>
<path d="M1157.58,1036.30 L1157.58,1008.77 L1153.95,1008.77 C1152.76,1011.81 1150.20,1013.98 1145.30,1014.65 L1145.30,1017.81 C1147.83,1017.73 1150.20,1017.14 1151.97,1016.15 L1151.97,1036.30Z" fill="#000"/>
<text x="1165.84" y="1036.30" class="tk" style="font-size:39.5px">3</text>
<text x="1187.80" y="1036.30" class="tk" style="font-size:39.5px">0</text>
<text x="1209.76" y="1036.30" class="tk" style="font-size:39.5px">0</text>
<text x="164" y="67.2" class="ttl">(a) Pt/HSC</text>
<text x="164" y="576.9" class="ttl">(b) Pt/V</text>
<line x1="988" y1="59.5" x2="1063" y2="59.5" stroke="#0000ff" stroke-width="4.5"/>
<line x1="990.3" y1="110.4" x2="1060.4" y2="110.4" stroke="#ff00ff" stroke-width="4.5" stroke-dasharray="29.4 18.2" stroke-linecap="round"/>
<line x1="990.3" y1="161.0" x2="1060.4" y2="161.0" stroke="#008000" stroke-width="4.5" stroke-dasharray="11.5 17.2 0 17.7" stroke-linecap="round"/>
<line x1="990.3" y1="212.4" x2="1060.4" y2="212.4" stroke="#ff0000" stroke-width="4.5" stroke-dasharray="12.4 17.2" stroke-linecap="round"/>
<text x="1069" y="71.9" class="lg">N-SAD</text>
<text x="1069" y="124.0" class="lg">N-RAD</text>
<text x="1069" y="173.9" class="lg">NF-SAD</text>
<text x="1069" y="224.8" class="lg">NF-SIPAD</text>
<text transform="translate(219.63,213.90) scale(1.102,1)" class="an it" style="font-size:37.23px" fill="#0000f0">n</text>
<rect x="250.45" y="200.10" width="17.6" height="2.4" fill="#0000f0" opacity="0.82"/>
<rect x="250.45" y="207.20" width="17.6" height="2.4" fill="#0000f0" opacity="0.82"/>
<text transform="translate(284.43,214.30) scale(1.190,1)" class="an" style="font-size:34.07px" fill="#0000f0">28</text>
<text transform="translate(211.52,253.90) scale(0.970,1)" class="an it" style="font-size:38.46px" fill="#0000f0">x</text>
<rect x="240.15" y="240.10" width="17.6" height="2.4" fill="#0000f0" opacity="0.82"/>
<rect x="240.15" y="247.20" width="17.6" height="2.4" fill="#0000f0" opacity="0.82"/>
<text transform="translate(274.06,254.30) scale(1.228,1)" class="an" style="font-size:34.33px" fill="#0000f0">311</text>
<text transform="translate(222.49,292.70) scale(1.030,1)" class="an it" style="font-size:36.46px" fill="#0000f0">s</text>
<rect x="248.60" y="278.90" width="17.6" height="2.4" fill="#0000f0" opacity="0.82"/>
<rect x="248.60" y="286.00" width="17.6" height="2.4" fill="#0000f0" opacity="0.82"/>
<text transform="translate(282.60,293.10) scale(1.168,1)" class="an" style="font-size:34.33px" fill="#0000f0">37</text>
<text transform="translate(388.13,173.10) scale(1.102,1)" class="an it" style="font-size:37.23px" fill="#ee00f0">n</text>
<rect x="418.95" y="159.30" width="17.6" height="2.4" fill="#ee00f0" opacity="0.82"/>
<rect x="418.95" y="166.40" width="17.6" height="2.4" fill="#ee00f0" opacity="0.82"/>
<text transform="translate(453.96,173.50) scale(1.150,1)" class="an" style="font-size:34.33px" fill="#ee00f0">49</text>
<text transform="translate(380.02,212.50) scale(0.970,1)" class="an it" style="font-size:38.46px" fill="#ee00f0">x</text>
<rect x="408.65" y="198.70" width="17.6" height="2.4" fill="#ee00f0" opacity="0.82"/>
<rect x="408.65" y="205.80" width="17.6" height="2.4" fill="#ee00f0" opacity="0.82"/>
<text transform="translate(443.66,212.90) scale(1.156,1)" class="an" style="font-size:34.07px" fill="#ee00f0">485</text>
<text transform="translate(390.99,251.30) scale(1.030,1)" class="an it" style="font-size:36.46px" fill="#ee00f0">s</text>
<rect x="417.10" y="237.50" width="17.6" height="2.4" fill="#ee00f0" opacity="0.82"/>
<rect x="417.10" y="244.60" width="17.6" height="2.4" fill="#ee00f0" opacity="0.82"/>
<text transform="translate(451.07,251.70) scale(1.196,1)" class="an" style="font-size:34.07px" fill="#ee00f0">50</text>
<text transform="translate(542.23,67.50) scale(1.102,1)" class="an it" style="font-size:37.23px" fill="#007800">n</text>
<rect x="573.05" y="53.70" width="17.6" height="2.4" fill="#007800" opacity="0.82"/>
<rect x="573.05" y="60.80" width="17.6" height="2.4" fill="#007800" opacity="0.82"/>
<text transform="translate(607.05,67.90) scale(1.162,1)" class="an" style="font-size:34.33px" fill="#007800">34</text>
<text transform="translate(534.12,106.90) scale(0.970,1)" class="an it" style="font-size:38.46px" fill="#007800">x</text>
<rect x="562.75" y="93.10" width="17.6" height="2.4" fill="#007800" opacity="0.82"/>
<rect x="562.75" y="100.20" width="17.6" height="2.4" fill="#007800" opacity="0.82"/>
<text transform="translate(596.76,107.30) scale(1.159,1)" class="an" style="font-size:34.33px" fill="#007800">597</text>
<text transform="translate(545.09,146.30) scale(1.030,1)" class="an it" style="font-size:36.46px" fill="#007800">s</text>
<rect x="571.20" y="132.50" width="17.6" height="2.4" fill="#007800" opacity="0.82"/>
<rect x="571.20" y="139.60" width="17.6" height="2.4" fill="#007800" opacity="0.82"/>
<text transform="translate(606.21,146.70) scale(1.141,1)" class="an" style="font-size:34.59px" fill="#007800">45</text>
<text transform="translate(755.13,67.50) scale(1.102,1)" class="an it" style="font-size:37.23px" fill="#f00000">n</text>
<rect x="785.95" y="53.70" width="17.6" height="2.4" fill="#f00000" opacity="0.82"/>
<rect x="785.95" y="60.80" width="17.6" height="2.4" fill="#f00000" opacity="0.82"/>
<text transform="translate(820.97,67.90) scale(1.107,1)" class="an" style="font-size:35.11px" fill="#f00000">44</text>
<text transform="translate(747.02,106.90) scale(0.970,1)" class="an it" style="font-size:38.46px" fill="#f00000">x</text>
<rect x="775.65" y="93.10" width="17.6" height="2.4" fill="#f00000" opacity="0.82"/>
<rect x="775.65" y="100.20" width="17.6" height="2.4" fill="#f00000" opacity="0.82"/>
<text transform="translate(809.87,107.30) scale(1.160,1)" class="an" style="font-size:34.07px" fill="#f00000">864</text>
<text transform="translate(757.99,146.10) scale(1.030,1)" class="an it" style="font-size:36.46px" fill="#f00000">s</text>
<rect x="784.10" y="132.30" width="17.6" height="2.4" fill="#f00000" opacity="0.82"/>
<rect x="784.10" y="139.40" width="17.6" height="2.4" fill="#f00000" opacity="0.82"/>
<text transform="translate(818.09,146.50) scale(1.175,1)" class="an" style="font-size:34.33px" fill="#f00000">56</text>
<text transform="translate(424.53,567.70) scale(1.102,1)" class="an it" style="font-size:37.23px" fill="#0000f0">n</text>
<rect x="455.35" y="553.90" width="17.6" height="2.4" fill="#0000f0" opacity="0.82"/>
<rect x="455.35" y="561.00" width="17.6" height="2.4" fill="#0000f0" opacity="0.82"/>
<text transform="translate(490.35,568.10) scale(1.145,1)" class="an" style="font-size:34.85px" fill="#0000f0">42</text>
<text transform="translate(416.42,606.60) scale(0.970,1)" class="an it" style="font-size:38.46px" fill="#0000f0">x</text>
<rect x="445.05" y="592.80" width="17.6" height="2.4" fill="#0000f0" opacity="0.82"/>
<rect x="445.05" y="599.90" width="17.6" height="2.4" fill="#0000f0" opacity="0.82"/>
<text transform="translate(479.05,607.00) scale(1.176,1)" class="an" style="font-size:34.07px" fill="#0000f0">548</text>
<text transform="translate(427.39,646.20) scale(1.030,1)" class="an it" style="font-size:36.46px" fill="#0000f0">s</text>
<rect x="453.50" y="632.40" width="17.6" height="2.4" fill="#0000f0" opacity="0.82"/>
<rect x="453.50" y="639.50" width="17.6" height="2.4" fill="#0000f0" opacity="0.82"/>
<text transform="translate(487.70,646.60) scale(1.177,1)" class="an" style="font-size:34.07px" fill="#0000f0">86</text>
<text transform="translate(610.03,651.50) scale(1.102,1)" class="an it" style="font-size:37.23px" fill="#ee00f0">n</text>
<rect x="640.85" y="637.70" width="17.6" height="2.4" fill="#ee00f0" opacity="0.82"/>
<rect x="640.85" y="644.80" width="17.6" height="2.4" fill="#ee00f0" opacity="0.82"/>
<text transform="translate(674.83,651.90) scale(1.181,1)" class="an" style="font-size:34.33px" fill="#ee00f0">29</text>
<text transform="translate(601.92,691.00) scale(0.970,1)" class="an it" style="font-size:38.46px" fill="#ee00f0">x</text>
<rect x="630.55" y="677.20" width="17.6" height="2.4" fill="#ee00f0" opacity="0.82"/>
<rect x="630.55" y="684.30" width="17.6" height="2.4" fill="#ee00f0" opacity="0.82"/>
<text transform="translate(664.75,691.40) scale(1.176,1)" class="an" style="font-size:34.07px" fill="#ee00f0">670</text>
<text transform="translate(612.89,730.60) scale(1.030,1)" class="an it" style="font-size:36.46px" fill="#ee00f0">s</text>
<rect x="639.00" y="716.80" width="17.6" height="2.4" fill="#ee00f0" opacity="0.82"/>
<rect x="639.00" y="723.90" width="17.6" height="2.4" fill="#ee00f0" opacity="0.82"/>
<text transform="translate(672.98,731.00) scale(1.181,1)" class="an" style="font-size:34.33px" fill="#ee00f0">25</text>
<text transform="translate(869.23,588.80) scale(1.102,1)" class="an it" style="font-size:37.23px" fill="#007800">n</text>
<rect x="900.05" y="575.00" width="17.6" height="2.4" fill="#007800" opacity="0.82"/>
<rect x="900.05" y="582.10" width="17.6" height="2.4" fill="#007800" opacity="0.82"/>
<text transform="translate(934.02,589.20) scale(1.196,1)" class="an" style="font-size:34.07px" fill="#007800">20</text>
<text transform="translate(851.32,628.10) scale(0.970,1)" class="an it" style="font-size:38.46px" fill="#007800">x</text>
<rect x="879.95" y="614.30" width="17.6" height="2.4" fill="#007800" opacity="0.82"/>
<rect x="879.95" y="621.40" width="17.6" height="2.4" fill="#007800" opacity="0.82"/>
<text transform="translate(912.29,628.50) scale(1.197,1)" class="an" style="font-size:34.07px" fill="#007800">1050</text>
<text transform="translate(862.29,667.50) scale(1.030,1)" class="an it" style="font-size:36.46px" fill="#007800">s</text>
<rect x="888.40" y="653.70" width="17.6" height="2.4" fill="#007800" opacity="0.82"/>
<rect x="888.40" y="660.80" width="17.6" height="2.4" fill="#007800" opacity="0.82"/>
<text transform="translate(920.69,667.90) scale(1.214,1)" class="an" style="font-size:34.07px" fill="#007800">120</text>
<text transform="translate(1021.73,723.90) scale(1.102,1)" class="an it" style="font-size:37.23px" fill="#f00000">n</text>
<rect x="1052.55" y="710.10" width="17.6" height="2.4" fill="#f00000" opacity="0.82"/>
<rect x="1052.55" y="717.20" width="17.6" height="2.4" fill="#f00000" opacity="0.82"/>
<text transform="translate(1086.52,724.30) scale(1.196,1)" class="an" style="font-size:34.07px" fill="#f00000">20</text>
<text transform="translate(1003.82,762.90) scale(0.970,1)" class="an it" style="font-size:38.46px" fill="#f00000">x</text>
<rect x="1032.45" y="749.10" width="17.6" height="2.4" fill="#f00000" opacity="0.82"/>
<rect x="1032.45" y="756.20" width="17.6" height="2.4" fill="#f00000" opacity="0.82"/>
<text transform="translate(1064.69,763.30) scale(1.233,1)" class="an" style="font-size:34.07px" fill="#f00000">1120</text>
<text transform="translate(1024.59,802.40) scale(1.030,1)" class="an it" style="font-size:36.46px" fill="#f00000">s</text>
<rect x="1050.70" y="788.60" width="17.6" height="2.4" fill="#f00000" opacity="0.82"/>
<rect x="1050.70" y="795.70" width="17.6" height="2.4" fill="#f00000" opacity="0.82"/>
<text transform="translate(1084.02,802.80) scale(1.216,1)" class="an" style="font-size:34.07px" fill="#f00000">70</text>
<text transform="translate(34.4,387.0) rotate(-90)" class="ax" style="font-size:39.1px">Frequency / #</text>
<text x="514" y="1099.3" class="ax" style="letter-spacing:0.5px">SA @ 0.9 V (µA/cm</text>
<text x="861.8" y="1085.3" class="ax" style="font-size:21px" textLength="14" lengthAdjust="spacingAndGlyphs">2</text>
<text x="879.3" y="1108.2" class="ax" style="font-size:21px" textLength="24" lengthAdjust="spacingAndGlyphs">Pt</text>
<text x="905.3" y="1099.3" class="ax">)</text>
</svg>
</body></html>
